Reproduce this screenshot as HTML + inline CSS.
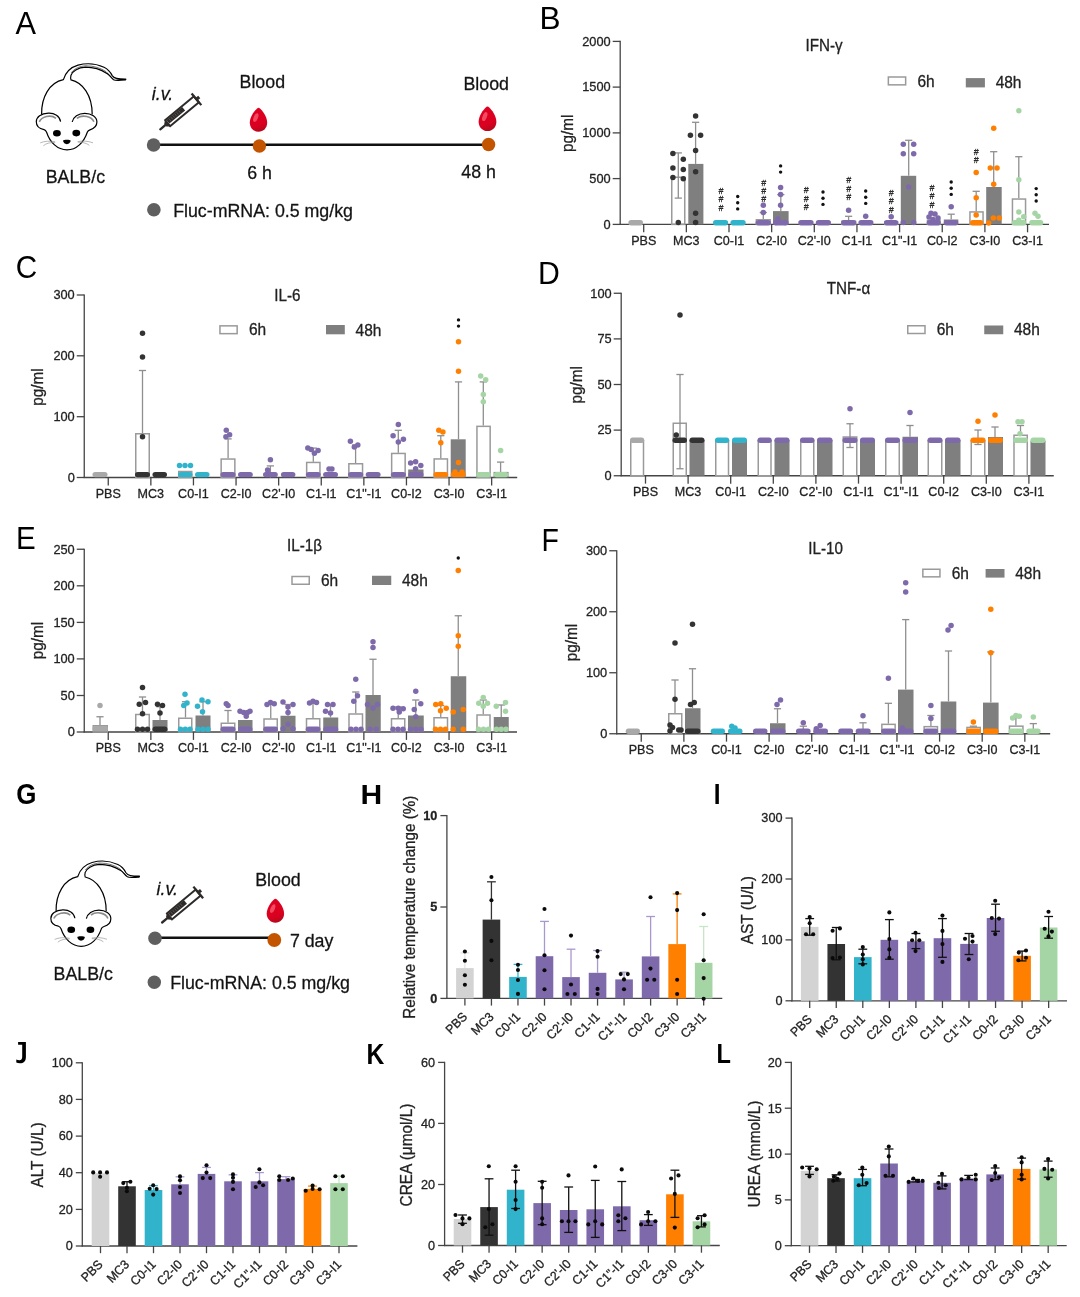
<!DOCTYPE html><html><head><meta charset="utf-8"><title>Figure</title><style>html,body{margin:0;padding:0;background:#fff;}body{width:1080px;height:1297px;overflow:hidden;}svg{display:block;font-family:"Liberation Sans",sans-serif;will-change:transform;}text{stroke:#222;stroke-width:0.28px;stroke-linejoin:round;}</style></head><body>
<svg width="1080" height="1297" viewBox="0 0 1080 1297">
<defs>
<linearGradient id="dg1" x1="0.3" y1="0" x2="0.6" y2="1"><stop offset="0" stop-color="#de0022"/><stop offset="0.72" stop-color="#da0020"/><stop offset="1" stop-color="#b00a1c"/></linearGradient>
<linearGradient id="dg2" x1="0.3" y1="0" x2="0.6" y2="1"><stop offset="0" stop-color="#de0022"/><stop offset="0.72" stop-color="#da0020"/><stop offset="1" stop-color="#b00a1c"/></linearGradient>
<linearGradient id="dg3" x1="0.3" y1="0" x2="0.6" y2="1"><stop offset="0" stop-color="#de0022"/><stop offset="0.72" stop-color="#da0020"/><stop offset="1" stop-color="#b00a1c"/></linearGradient>
</defs>
<rect width="1080" height="1297" fill="#fff"/>
<text transform="translate(15.44 33.7) scale(0.980 1)" font-size="31.4" font-weight="normal" fill="#000" style="stroke:none">A</text>
<g transform="translate(30 60) scale(1)">
<path d="M11.6,54.6 C11.2,37 19.5,22.5 33.4,19.6 C35.5,13 40,7.5 48,5.2 C56,3 66,3.6 74,7.3 C78.5,9.4 80.6,12.5 82.2,15.6 C84.2,18.8 88,19.2 95.8,19.1 L95.6,19.9 C89,20.6 85.5,21 83.6,19.7 C80.6,17.5 79.4,14.6 76.9,13.4 C70,9 62.5,7.2 55.6,7.2 C47.5,7.6 42.3,11.5 41,15.2 C40.5,17.3 40.6,19 41,19.9 C52.5,22.5 62.3,35 62.2,54.6" fill="#fff" stroke="#000" stroke-width="1.2" stroke-linejoin="round"/>
<path d="M41.2,12.8 C44.5,8.4 50,6 56,5.8 C64,5.8 71,8.2 76,11.6 C78.8,13.8 80.3,16.8 83,18.9" fill="none" stroke="#000" stroke-width="0.55"/>
<path d="M30.6,61.6 C29.8,56 24.5,53 18.5,53.2 C11,53.5 6.3,57 6.3,61.8 C6.3,66 9.5,68.8 14,69.6 C15.6,70 16.1,71 16.6,72.2 C20,82.5 27.5,89.9 37,89.9 C46.5,89.9 53.8,82.5 57.4,72 C57.9,70.8 58.8,70.3 60,69.9 C64.2,68.6 66.9,65.8 66.9,62 C66.9,57 61.5,53.4 54.8,53.4 C48.3,53.4 43.2,57 42.2,62" fill="#fff" stroke="#000" stroke-width="1.2" stroke-linejoin="round"/>
<path d="M9.3,61.8 C11.5,57 20.5,53.8 26,58.4" fill="none" stroke="#8a8a8a" stroke-width="1.6"/>
<path d="M46.8,58.3 C52.5,54.2 61.8,56.2 63.9,61.8" fill="none" stroke="#8a8a8a" stroke-width="1.6"/>
<ellipse cx="26.9" cy="73.2" rx="3.9" ry="3.3" fill="#000"/>
<ellipse cx="46.3" cy="73.1" rx="3.9" ry="3.3" fill="#000"/>
<path d="M33.1,80.6 C33.4,79.4 40.3,79.4 40.6,80.6 C40.8,82.2 38.8,84.3 36.8,84.3 C34.9,84.3 32.9,82.2 33.1,80.6 Z" fill="#000"/>
<path d="M10.2,82.9 C14,81.2 20,80.6 25.2,81.8 M13.4,85.7 C16,83.2 21,82.2 25.2,82.6 M47.6,81.6 C52,80.6 58,81 63,82.8 M47.8,82.2 C52,82 56.3,83 59.4,85.3" fill="none" stroke="#9a9a9a" stroke-width="0.7"/>
</g>
<text transform="translate(45.74 182.6) scale(1 1.04)" font-size="17.8" text-anchor="start" font-weight="normal" fill="#111">BALB/c</text>
<line x1="153.5" y1="144.8" x2="488.5" y2="144.8" stroke="#111" stroke-width="2.4"/>
<circle cx="153.6" cy="145" r="6.8" fill="#5f5f5f"/>
<circle cx="259.4" cy="146" r="6.7" fill="#c45500"/>
<circle cx="488.6" cy="144.5" r="6.7" fill="#c45500"/>
<g transform="translate(160.3 129.3) rotate(-39.7)"><line x1="0" y1="0" x2="8" y2="0" stroke="#2e2a2a" stroke-width="2.3" stroke-linecap="round"/><path d="M6.5,-1.6 L9.5,-4.2 L9.5,4.2 L6.5,1.6 Z" fill="#2e2a2a"/><rect x="9.6" y="-3.9" width="37.2" height="7.8" fill="#fff" stroke="#2e2a2a" stroke-width="2.0"/><rect x="10.6" y="-3.2" width="20.5" height="4.6" fill="#2e2a2a"/><path d="M13.5,-2.6 v2.8 M16,-2.6 v2.8 M18.5,-2.6 v2.8 M21,-2.6 v2.8 M23.5,-2.6 v2.8 M26,-2.6 v2.8" stroke="#6a6464" stroke-width="0.7"/><line x1="47" y1="-7.6" x2="47" y2="7.6" stroke="#2e2a2a" stroke-width="2.3"/><rect x="47" y="-1.6" width="3.6" height="3.2" fill="#2e2a2a"/></g>
<text transform="translate(151.8 99.8) scale(1 1.04)" font-size="17.8" text-anchor="start" font-weight="normal" fill="#111" style="font-style:italic">i.v.</text>
<text transform="translate(239.54 88.1) scale(1 1.04)" font-size="17.8" text-anchor="start" font-weight="normal" fill="#111">Blood</text>
<text transform="translate(463.44 89.7) scale(1 1.04)" font-size="17.8" text-anchor="start" font-weight="normal" fill="#111">Blood</text>
<g transform="translate(258.5 107.8) scale(1)"><path d="M0,0 C1.6,0 8.7,7.8 8.7,14.8 C8.7,20.2 4.8,24 0,24 C-4.8,24 -8.7,20.2 -8.7,14.8 C-8.7,7.8 -1.6,0 0,0 Z" fill="url(#dg1)"/><ellipse cx="-2.7" cy="9.8" rx="2.1" ry="4.6" transform="rotate(22 -2.7 9.8)" fill="#f24a60"/></g>
<g transform="translate(487.5 106.6) scale(1.02)"><path d="M0,0 C1.6,0 8.7,7.8 8.7,14.8 C8.7,20.2 4.8,24 0,24 C-4.8,24 -8.7,20.2 -8.7,14.8 C-8.7,7.8 -1.6,0 0,0 Z" fill="url(#dg2)"/><ellipse cx="-2.7" cy="9.8" rx="2.1" ry="4.6" transform="rotate(22 -2.7 9.8)" fill="#f24a60"/></g>
<text transform="translate(247.19 178.9) scale(1 1.04)" font-size="17.8" text-anchor="start" font-weight="normal" fill="#111">6 h</text>
<text transform="translate(461.29 178.1) scale(1 1.04)" font-size="17.8" text-anchor="start" font-weight="normal" fill="#111">48 h</text>
<circle cx="153.9" cy="209.7" r="6.8" fill="#5f5f5f"/>
<text transform="translate(173.14 217) scale(1 1.04)" font-size="17.8" text-anchor="start" font-weight="normal" fill="#111">Fluc-mRNA: 0.5 mg/kg</text>
<line x1="620.2" y1="40.8" x2="620.2" y2="225" stroke="#454545" stroke-width="1.3"/>
<line x1="619.6" y1="224.4" x2="1049" y2="224.4" stroke="#454545" stroke-width="1.3"/>
<line x1="612.7" y1="41.4" x2="620.2" y2="41.4" stroke="#454545" stroke-width="1.3"/>
<text transform="translate(610.7 45.7) scale(1 1.04)" font-size="12.8" text-anchor="end" font-weight="normal" fill="#222222">2000</text>
<line x1="612.7" y1="87.1" x2="620.2" y2="87.1" stroke="#454545" stroke-width="1.3"/>
<text transform="translate(610.7 91.4) scale(1 1.04)" font-size="12.8" text-anchor="end" font-weight="normal" fill="#222222">1500</text>
<line x1="612.7" y1="132.9" x2="620.2" y2="132.9" stroke="#454545" stroke-width="1.3"/>
<text transform="translate(610.7 137.2) scale(1 1.04)" font-size="12.8" text-anchor="end" font-weight="normal" fill="#222222">1000</text>
<line x1="612.7" y1="178.6" x2="620.2" y2="178.6" stroke="#454545" stroke-width="1.3"/>
<text transform="translate(610.7 182.9) scale(1 1.04)" font-size="12.8" text-anchor="end" font-weight="normal" fill="#222222">500</text>
<line x1="612.7" y1="224.4" x2="620.2" y2="224.4" stroke="#454545" stroke-width="1.3"/>
<text transform="translate(610.7 228.7) scale(1 1.04)" font-size="12.8" text-anchor="end" font-weight="normal" fill="#222222">0</text>
<line x1="643.7" y1="224.4" x2="643.7" y2="232.3" stroke="#454545" stroke-width="1.3"/>
<text transform="translate(643.7 244.7) scale(1 1.04)" font-size="12.55" text-anchor="middle" font-weight="normal" fill="#222222">PBS</text>
<line x1="686.35" y1="224.4" x2="686.35" y2="232.3" stroke="#454545" stroke-width="1.3"/>
<text transform="translate(686.35 244.7) scale(1 1.04)" font-size="12.55" text-anchor="middle" font-weight="normal" fill="#222222">MC3</text>
<line x1="729" y1="224.4" x2="729" y2="232.3" stroke="#454545" stroke-width="1.3"/>
<text transform="translate(729 244.7) scale(1 1.04)" font-size="12.55" text-anchor="middle" font-weight="normal" fill="#222222">C0-I1</text>
<line x1="771.65" y1="224.4" x2="771.65" y2="232.3" stroke="#454545" stroke-width="1.3"/>
<text transform="translate(771.65 244.7) scale(1 1.04)" font-size="12.55" text-anchor="middle" font-weight="normal" fill="#222222">C2-I0</text>
<line x1="814.3" y1="224.4" x2="814.3" y2="232.3" stroke="#454545" stroke-width="1.3"/>
<text transform="translate(814.3 244.7) scale(1 1.04)" font-size="12.55" text-anchor="middle" font-weight="normal" fill="#222222">C2'-I0</text>
<line x1="856.95" y1="224.4" x2="856.95" y2="232.3" stroke="#454545" stroke-width="1.3"/>
<text transform="translate(856.95 244.7) scale(1 1.04)" font-size="12.55" text-anchor="middle" font-weight="normal" fill="#222222">C1-I1</text>
<line x1="899.6" y1="224.4" x2="899.6" y2="232.3" stroke="#454545" stroke-width="1.3"/>
<text transform="translate(899.6 244.7) scale(1 1.04)" font-size="12.55" text-anchor="middle" font-weight="normal" fill="#222222">C1"-I1</text>
<line x1="942.25" y1="224.4" x2="942.25" y2="232.3" stroke="#454545" stroke-width="1.3"/>
<text transform="translate(942.25 244.7) scale(1 1.04)" font-size="12.55" text-anchor="middle" font-weight="normal" fill="#222222">C0-I2</text>
<line x1="984.9" y1="224.4" x2="984.9" y2="232.3" stroke="#454545" stroke-width="1.3"/>
<text transform="translate(984.9 244.7) scale(1 1.04)" font-size="12.55" text-anchor="middle" font-weight="normal" fill="#222222">C3-I0</text>
<line x1="1027.55" y1="224.4" x2="1027.55" y2="232.3" stroke="#454545" stroke-width="1.3"/>
<text transform="translate(1027.55 244.7) scale(1 1.04)" font-size="12.55" text-anchor="middle" font-weight="normal" fill="#222222">C3-I1</text>
<rect x="671.75" y="177.25" width="13" height="47.15" fill="none" stroke="#9a9a9a" stroke-width="1.5"/>
<rect x="688.3" y="163.9" width="15.1" height="60.5" fill="#7f7f7f" stroke="none" stroke-width="0"/>
<rect x="756.35" y="219.75" width="13.8" height="4.65" fill="none" stroke="#9a9a9a" stroke-width="1.5"/>
<rect x="773" y="211.1" width="15.6" height="13.3" fill="#7f7f7f" stroke="none" stroke-width="0"/>
<rect x="841.85" y="221.25" width="13.7" height="3.15" fill="none" stroke="#9a9a9a" stroke-width="1.5"/>
<rect x="884.75" y="221.75" width="12.8" height="2.65" fill="none" stroke="#9a9a9a" stroke-width="1.5"/>
<rect x="900.8" y="175.8" width="15.4" height="48.6" fill="#7f7f7f" stroke="none" stroke-width="0"/>
<rect x="927.45" y="220.25" width="12.6" height="4.15" fill="none" stroke="#9a9a9a" stroke-width="1.5"/>
<rect x="943.8" y="219.5" width="14.5" height="4.9" fill="#7f7f7f" stroke="none" stroke-width="0"/>
<rect x="969.95" y="211.95" width="13.1" height="12.45" fill="none" stroke="#9a9a9a" stroke-width="1.5"/>
<rect x="986.2" y="187" width="15.5" height="37.4" fill="#7f7f7f" stroke="none" stroke-width="0"/>
<rect x="1012.45" y="199.05" width="13.1" height="25.35" fill="none" stroke="#9a9a9a" stroke-width="1.5"/>
<line x1="678.3" y1="152.9" x2="678.3" y2="198.1" stroke="#8f8f8f" stroke-width="1.3"/>
<line x1="674.7" y1="152.9" x2="681.9" y2="152.9" stroke="#8f8f8f" stroke-width="1.3"/>
<line x1="674.7" y1="198.1" x2="681.9" y2="198.1" stroke="#8f8f8f" stroke-width="1.3"/>
<line x1="695.6" y1="122.3" x2="695.6" y2="163.9" stroke="#8f8f8f" stroke-width="1.3"/>
<line x1="692" y1="122.3" x2="699.2" y2="122.3" stroke="#8f8f8f" stroke-width="1.3"/>
<line x1="763.3" y1="212.5" x2="763.3" y2="219" stroke="#8f8f8f" stroke-width="1.3"/>
<line x1="759.7" y1="212.5" x2="766.9" y2="212.5" stroke="#8f8f8f" stroke-width="1.3"/>
<line x1="780.8" y1="194.6" x2="780.8" y2="211.1" stroke="#8f8f8f" stroke-width="1.3"/>
<line x1="777.2" y1="194.6" x2="784.4" y2="194.6" stroke="#8f8f8f" stroke-width="1.3"/>
<line x1="848.6" y1="216.3" x2="848.6" y2="220.5" stroke="#8f8f8f" stroke-width="1.3"/>
<line x1="845" y1="216.3" x2="852.2" y2="216.3" stroke="#8f8f8f" stroke-width="1.3"/>
<line x1="908.7" y1="140.3" x2="908.7" y2="175.8" stroke="#8f8f8f" stroke-width="1.3"/>
<line x1="905.1" y1="140.3" x2="912.3" y2="140.3" stroke="#8f8f8f" stroke-width="1.3"/>
<line x1="951.2" y1="214.2" x2="951.2" y2="219.5" stroke="#8f8f8f" stroke-width="1.3"/>
<line x1="947.6" y1="214.2" x2="954.8" y2="214.2" stroke="#8f8f8f" stroke-width="1.3"/>
<line x1="976.2" y1="191.3" x2="976.2" y2="211.2" stroke="#8f8f8f" stroke-width="1.3"/>
<line x1="972.6" y1="191.3" x2="979.8" y2="191.3" stroke="#8f8f8f" stroke-width="1.3"/>
<line x1="993.7" y1="151.7" x2="993.7" y2="187" stroke="#8f8f8f" stroke-width="1.3"/>
<line x1="990.1" y1="151.7" x2="997.3" y2="151.7" stroke="#8f8f8f" stroke-width="1.3"/>
<line x1="1018.8" y1="156.7" x2="1018.8" y2="198.3" stroke="#8f8f8f" stroke-width="1.3"/>
<line x1="1015.2" y1="156.7" x2="1022.4" y2="156.7" stroke="#8f8f8f" stroke-width="1.3"/>
<rect x="628.4" y="220.1" width="14.6" height="5.4" rx="2.7" fill="#a9a9a9"/>
<rect x="713" y="220.1" width="15.2" height="5.4" rx="2.7" fill="#31b4cb"/>
<rect x="730.4" y="220.1" width="15.3" height="5.4" rx="2.7" fill="#31b4cb"/>
<rect x="755.6" y="220.1" width="15.3" height="5.4" rx="2.7" fill="#7e6aab"/>
<rect x="773" y="220.1" width="15.6" height="5.4" rx="2.7" fill="#7e6aab"/>
<rect x="798.3" y="220.1" width="15.3" height="5.4" rx="2.7" fill="#7e6aab"/>
<rect x="815.8" y="220.1" width="15.2" height="5.4" rx="2.7" fill="#7e6aab"/>
<rect x="841.1" y="220.1" width="15.2" height="5.4" rx="2.7" fill="#7e6aab"/>
<rect x="858.4" y="220.1" width="15.1" height="5.4" rx="2.7" fill="#7e6aab"/>
<rect x="884" y="220.1" width="14.3" height="5.4" rx="2.7" fill="#7e6aab"/>
<rect x="926.7" y="220.1" width="14.1" height="5.4" rx="2.7" fill="#7e6aab"/>
<rect x="943.8" y="220.1" width="14.5" height="5.4" rx="2.7" fill="#7e6aab"/>
<rect x="970" y="220.1" width="13.3" height="5.4" rx="2.7" fill="#ff7f00"/>
<rect x="1011.7" y="220.1" width="14.6" height="5.4" rx="2.7" fill="#a5d5a5"/>
<rect x="1029.2" y="220.1" width="14.1" height="5.4" rx="2.7" fill="#a5d5a5"/>
<circle cx="672.9" cy="153.5" r="2.75" fill="#333333"/>
<circle cx="672.9" cy="168" r="2.75" fill="#333333"/>
<circle cx="672.9" cy="177.5" r="2.75" fill="#333333"/>
<circle cx="683.3" cy="159.2" r="2.75" fill="#333333"/>
<circle cx="683.3" cy="169.6" r="2.75" fill="#333333"/>
<circle cx="683.3" cy="178.7" r="2.75" fill="#333333"/>
<circle cx="678.3" cy="222.5" r="2.75" fill="#333333"/>
<circle cx="695.6" cy="116" r="2.75" fill="#333333"/>
<circle cx="690.4" cy="135.3" r="2.75" fill="#333333"/>
<circle cx="700.6" cy="135.3" r="2.75" fill="#333333"/>
<circle cx="695.6" cy="150.6" r="2.75" fill="#333333"/>
<circle cx="695.6" cy="171.7" r="2.75" fill="#333333"/>
<circle cx="695.6" cy="213.2" r="2.75" fill="#333333"/>
<circle cx="695.6" cy="222.5" r="2.75" fill="#333333"/>
<circle cx="763.3" cy="205.3" r="2.75" fill="#7e6aab"/>
<circle cx="763.3" cy="212.5" r="2.75" fill="#7e6aab"/>
<circle cx="780.6" cy="187.5" r="2.75" fill="#7e6aab"/>
<circle cx="780.6" cy="194.6" r="2.75" fill="#7e6aab"/>
<circle cx="780.6" cy="205.3" r="2.75" fill="#7e6aab"/>
<circle cx="778" cy="219" r="2.75" fill="#7e6aab"/>
<circle cx="776" cy="222.5" r="2.75" fill="#7e6aab"/>
<circle cx="785" cy="222.5" r="2.75" fill="#7e6aab"/>
<circle cx="848.6" cy="210.2" r="2.75" fill="#7e6aab"/>
<circle cx="865.7" cy="216.3" r="2.75" fill="#7e6aab"/>
<circle cx="891.2" cy="216.7" r="2.75" fill="#7e6aab"/>
<circle cx="903.3" cy="144.2" r="2.75" fill="#7e6aab"/>
<circle cx="913.7" cy="144.2" r="2.75" fill="#7e6aab"/>
<circle cx="903.3" cy="153.7" r="2.75" fill="#7e6aab"/>
<circle cx="913.7" cy="153.7" r="2.75" fill="#7e6aab"/>
<circle cx="908.7" cy="187" r="2.75" fill="#7e6aab"/>
<circle cx="903.3" cy="222.5" r="2.75" fill="#7e6aab"/>
<circle cx="913.7" cy="222.5" r="2.75" fill="#7e6aab"/>
<circle cx="931" cy="213.3" r="2.75" fill="#7e6aab"/>
<circle cx="935" cy="214" r="2.75" fill="#7e6aab"/>
<circle cx="929" cy="217" r="2.75" fill="#7e6aab"/>
<circle cx="938" cy="218" r="2.75" fill="#7e6aab"/>
<circle cx="933" cy="219.5" r="2.75" fill="#7e6aab"/>
<circle cx="951.2" cy="206.7" r="2.75" fill="#7e6aab"/>
<circle cx="976.2" cy="172.5" r="2.75" fill="#ff7f00"/>
<circle cx="976.2" cy="197.8" r="2.75" fill="#ff7f00"/>
<circle cx="976.2" cy="215" r="2.75" fill="#ff7f00"/>
<circle cx="993.7" cy="128.3" r="2.75" fill="#ff7f00"/>
<circle cx="990.3" cy="168" r="2.75" fill="#ff7f00"/>
<circle cx="997" cy="168" r="2.75" fill="#ff7f00"/>
<circle cx="993.7" cy="184.2" r="2.75" fill="#ff7f00"/>
<circle cx="993.3" cy="218" r="2.75" fill="#ff7f00"/>
<circle cx="999.2" cy="218" r="2.75" fill="#ff7f00"/>
<circle cx="988.7" cy="223" r="2.75" fill="#ff7f00"/>
<circle cx="1018.8" cy="110.8" r="2.75" fill="#a5d5a5"/>
<circle cx="1018.8" cy="179.7" r="2.75" fill="#a5d5a5"/>
<circle cx="1018.8" cy="212" r="2.75" fill="#a5d5a5"/>
<circle cx="1023.7" cy="216.7" r="2.75" fill="#a5d5a5"/>
<circle cx="1018.8" cy="220.3" r="2.75" fill="#a5d5a5"/>
<circle cx="1035" cy="213.3" r="2.75" fill="#a5d5a5"/>
<circle cx="1038" cy="216.2" r="2.75" fill="#a5d5a5"/>
<text transform="translate(720.9 193.7) scale(1 1.04)" font-size="8.6" text-anchor="middle" font-weight="normal" fill="#2a2a2a" style="font-style:italic">#</text>
<text transform="translate(720.9 202.4) scale(1 1.04)" font-size="8.6" text-anchor="middle" font-weight="normal" fill="#2a2a2a" style="font-style:italic">#</text>
<text transform="translate(720.9 211.1) scale(1 1.04)" font-size="8.6" text-anchor="middle" font-weight="normal" fill="#2a2a2a" style="font-style:italic">#</text>
<text transform="translate(763.7 185.7) scale(1 1.04)" font-size="8.6" text-anchor="middle" font-weight="normal" fill="#2a2a2a" style="font-style:italic">#</text>
<text transform="translate(763.7 193.8) scale(1 1.04)" font-size="8.6" text-anchor="middle" font-weight="normal" fill="#2a2a2a" style="font-style:italic">#</text>
<text transform="translate(763.7 201.9) scale(1 1.04)" font-size="8.6" text-anchor="middle" font-weight="normal" fill="#2a2a2a" style="font-style:italic">#</text>
<text transform="translate(806.1 193.2) scale(1 1.04)" font-size="8.6" text-anchor="middle" font-weight="normal" fill="#2a2a2a" style="font-style:italic">#</text>
<text transform="translate(806.1 201.7) scale(1 1.04)" font-size="8.6" text-anchor="middle" font-weight="normal" fill="#2a2a2a" style="font-style:italic">#</text>
<text transform="translate(806.1 210.2) scale(1 1.04)" font-size="8.6" text-anchor="middle" font-weight="normal" fill="#2a2a2a" style="font-style:italic">#</text>
<text transform="translate(848.6 183.2) scale(1 1.04)" font-size="8.6" text-anchor="middle" font-weight="normal" fill="#2a2a2a" style="font-style:italic">#</text>
<text transform="translate(848.6 191.7) scale(1 1.04)" font-size="8.6" text-anchor="middle" font-weight="normal" fill="#2a2a2a" style="font-style:italic">#</text>
<text transform="translate(848.6 200.2) scale(1 1.04)" font-size="8.6" text-anchor="middle" font-weight="normal" fill="#2a2a2a" style="font-style:italic">#</text>
<text transform="translate(891.2 195.7) scale(1 1.04)" font-size="8.6" text-anchor="middle" font-weight="normal" fill="#2a2a2a" style="font-style:italic">#</text>
<text transform="translate(891.2 204.2) scale(1 1.04)" font-size="8.6" text-anchor="middle" font-weight="normal" fill="#2a2a2a" style="font-style:italic">#</text>
<text transform="translate(891.2 212.7) scale(1 1.04)" font-size="8.6" text-anchor="middle" font-weight="normal" fill="#2a2a2a" style="font-style:italic">#</text>
<text transform="translate(932 190.7) scale(1 1.04)" font-size="8.6" text-anchor="middle" font-weight="normal" fill="#2a2a2a" style="font-style:italic">#</text>
<text transform="translate(932 199.2) scale(1 1.04)" font-size="8.6" text-anchor="middle" font-weight="normal" fill="#2a2a2a" style="font-style:italic">#</text>
<text transform="translate(932 207.7) scale(1 1.04)" font-size="8.6" text-anchor="middle" font-weight="normal" fill="#2a2a2a" style="font-style:italic">#</text>
<text transform="translate(976.2 154.7) scale(1 1.04)" font-size="8.6" text-anchor="middle" font-weight="normal" fill="#2a2a2a" style="font-style:italic">#</text>
<text transform="translate(976.2 163.2) scale(1 1.04)" font-size="8.6" text-anchor="middle" font-weight="normal" fill="#2a2a2a" style="font-style:italic">#</text>
<circle cx="737.7" cy="196.5" r="1.7" fill="#111"/>
<circle cx="737.7" cy="202.7" r="1.7" fill="#111"/>
<circle cx="737.7" cy="208.9" r="1.7" fill="#111"/>
<circle cx="780.6" cy="165.9" r="1.7" fill="#111"/>
<circle cx="780.6" cy="172.1" r="1.7" fill="#111"/>
<circle cx="823" cy="192" r="1.7" fill="#111"/>
<circle cx="823" cy="198.2" r="1.7" fill="#111"/>
<circle cx="823" cy="204.4" r="1.7" fill="#111"/>
<circle cx="865.7" cy="191" r="1.7" fill="#111"/>
<circle cx="865.7" cy="197.2" r="1.7" fill="#111"/>
<circle cx="865.7" cy="203.4" r="1.7" fill="#111"/>
<circle cx="951.2" cy="182" r="1.7" fill="#111"/>
<circle cx="951.2" cy="188.2" r="1.7" fill="#111"/>
<circle cx="951.2" cy="194.4" r="1.7" fill="#111"/>
<circle cx="1036.2" cy="188.6" r="1.7" fill="#111"/>
<circle cx="1036.2" cy="194.8" r="1.7" fill="#111"/>
<circle cx="1036.2" cy="201" r="1.7" fill="#111"/>
<text transform="translate(805.5 50.5) scale(1 1.04)" font-size="15.2" text-anchor="start" font-weight="normal" fill="#222222">IFN-γ</text>
<rect x="888.35" y="77" width="17.3" height="7.85" fill="none" stroke="#9a9a9a" stroke-width="1.5"/>
<text transform="translate(917.4 86.7) scale(1 1.04)" font-size="15.5" text-anchor="start" font-weight="normal" fill="#222222">6h</text>
<rect x="965.8" y="78.1" width="19.1" height="9.3" fill="#7f7f7f" stroke="none" stroke-width="0"/>
<text transform="translate(995.65 88.3) scale(1 1.04)" font-size="15.5" text-anchor="start" font-weight="normal" fill="#222222">48h</text>
<text transform="translate(572.9 133.35) rotate(-90) scale(1 1.04)" x="0" y="0" font-size="15.3" text-anchor="middle" font-weight="normal" fill="#222222">pg/ml</text>
<text transform="translate(539.51 28.5) scale(0.996 1)" font-size="31.69" font-weight="normal" fill="#000" style="stroke:none">B</text>
<line x1="84.25" y1="294.4" x2="84.25" y2="478.1" stroke="#454545" stroke-width="1.3"/>
<line x1="83.65" y1="477.5" x2="517.2" y2="477.5" stroke="#454545" stroke-width="1.3"/>
<line x1="76.75" y1="295" x2="84.25" y2="295" stroke="#454545" stroke-width="1.3"/>
<text transform="translate(74.75 299.3) scale(1 1.04)" font-size="12.8" text-anchor="end" font-weight="normal" fill="#222222">300</text>
<line x1="76.75" y1="355.8" x2="84.25" y2="355.8" stroke="#454545" stroke-width="1.3"/>
<text transform="translate(74.75 360.1) scale(1 1.04)" font-size="12.8" text-anchor="end" font-weight="normal" fill="#222222">200</text>
<line x1="76.75" y1="416.7" x2="84.25" y2="416.7" stroke="#454545" stroke-width="1.3"/>
<text transform="translate(74.75 421) scale(1 1.04)" font-size="12.8" text-anchor="end" font-weight="normal" fill="#222222">100</text>
<line x1="76.75" y1="477.5" x2="84.25" y2="477.5" stroke="#454545" stroke-width="1.3"/>
<text transform="translate(74.75 481.8) scale(1 1.04)" font-size="12.8" text-anchor="end" font-weight="normal" fill="#222222">0</text>
<line x1="108.25" y1="477.5" x2="108.25" y2="485.4" stroke="#454545" stroke-width="1.3"/>
<text transform="translate(108.25 497.8) scale(1 1.04)" font-size="12.55" text-anchor="middle" font-weight="normal" fill="#222222">PBS</text>
<line x1="150.85" y1="477.5" x2="150.85" y2="485.4" stroke="#454545" stroke-width="1.3"/>
<text transform="translate(150.85 497.8) scale(1 1.04)" font-size="12.55" text-anchor="middle" font-weight="normal" fill="#222222">MC3</text>
<line x1="193.45" y1="477.5" x2="193.45" y2="485.4" stroke="#454545" stroke-width="1.3"/>
<text transform="translate(193.45 497.8) scale(1 1.04)" font-size="12.55" text-anchor="middle" font-weight="normal" fill="#222222">C0-I1</text>
<line x1="236.05" y1="477.5" x2="236.05" y2="485.4" stroke="#454545" stroke-width="1.3"/>
<text transform="translate(236.05 497.8) scale(1 1.04)" font-size="12.55" text-anchor="middle" font-weight="normal" fill="#222222">C2-I0</text>
<line x1="278.65" y1="477.5" x2="278.65" y2="485.4" stroke="#454545" stroke-width="1.3"/>
<text transform="translate(278.65 497.8) scale(1 1.04)" font-size="12.55" text-anchor="middle" font-weight="normal" fill="#222222">C2'-I0</text>
<line x1="321.25" y1="477.5" x2="321.25" y2="485.4" stroke="#454545" stroke-width="1.3"/>
<text transform="translate(321.25 497.8) scale(1 1.04)" font-size="12.55" text-anchor="middle" font-weight="normal" fill="#222222">C1-I1</text>
<line x1="363.85" y1="477.5" x2="363.85" y2="485.4" stroke="#454545" stroke-width="1.3"/>
<text transform="translate(363.85 497.8) scale(1 1.04)" font-size="12.55" text-anchor="middle" font-weight="normal" fill="#222222">C1"-I1</text>
<line x1="406.45" y1="477.5" x2="406.45" y2="485.4" stroke="#454545" stroke-width="1.3"/>
<text transform="translate(406.45 497.8) scale(1 1.04)" font-size="12.55" text-anchor="middle" font-weight="normal" fill="#222222">C0-I2</text>
<line x1="449.05" y1="477.5" x2="449.05" y2="485.4" stroke="#454545" stroke-width="1.3"/>
<text transform="translate(449.05 497.8) scale(1 1.04)" font-size="12.55" text-anchor="middle" font-weight="normal" fill="#222222">C3-I0</text>
<line x1="491.65" y1="477.5" x2="491.65" y2="485.4" stroke="#454545" stroke-width="1.3"/>
<text transform="translate(491.65 497.8) scale(1 1.04)" font-size="12.55" text-anchor="middle" font-weight="normal" fill="#222222">C3-I1</text>
<rect x="135.75" y="433.75" width="13.5" height="43.75" fill="none" stroke="#9a9a9a" stroke-width="1.5"/>
<rect x="178.75" y="471.5" width="13" height="6" fill="none" stroke="#9a9a9a" stroke-width="1.5"/>
<rect x="221.15" y="459.05" width="13.7" height="18.45" fill="none" stroke="#9a9a9a" stroke-width="1.5"/>
<rect x="306.65" y="462.45" width="13.3" height="15.05" fill="none" stroke="#9a9a9a" stroke-width="1.5"/>
<rect x="348.85" y="463.75" width="13.7" height="13.75" fill="none" stroke="#9a9a9a" stroke-width="1.5"/>
<rect x="391.65" y="453.45" width="13.5" height="24.05" fill="none" stroke="#9a9a9a" stroke-width="1.5"/>
<rect x="408.2" y="469.5" width="15.3" height="8" fill="#7f7f7f" stroke="none" stroke-width="0"/>
<rect x="434.15" y="458.95" width="13.3" height="18.55" fill="none" stroke="#9a9a9a" stroke-width="1.5"/>
<rect x="450.7" y="439.3" width="15" height="38.2" fill="#7f7f7f" stroke="none" stroke-width="0"/>
<rect x="476.95" y="426.35" width="13.2" height="51.15" fill="none" stroke="#9a9a9a" stroke-width="1.5"/>
<rect x="493.6" y="471.9" width="14.9" height="5.6" fill="#7f7f7f" stroke="none" stroke-width="0"/>
<line x1="142.5" y1="370.5" x2="142.5" y2="433" stroke="#8f8f8f" stroke-width="1.3"/>
<line x1="138.9" y1="370.5" x2="146.1" y2="370.5" stroke="#8f8f8f" stroke-width="1.3"/>
<line x1="228.1" y1="438.9" x2="228.1" y2="458.3" stroke="#8f8f8f" stroke-width="1.3"/>
<line x1="224.5" y1="438.9" x2="231.7" y2="438.9" stroke="#8f8f8f" stroke-width="1.3"/>
<line x1="270.4" y1="465.9" x2="270.4" y2="477.5" stroke="#8f8f8f" stroke-width="1.3"/>
<line x1="266.8" y1="465.9" x2="274" y2="465.9" stroke="#8f8f8f" stroke-width="1.3"/>
<line x1="313.3" y1="448.1" x2="313.3" y2="461.7" stroke="#8f8f8f" stroke-width="1.3"/>
<line x1="309.7" y1="448.1" x2="316.9" y2="448.1" stroke="#8f8f8f" stroke-width="1.3"/>
<line x1="355.6" y1="445" x2="355.6" y2="463" stroke="#8f8f8f" stroke-width="1.3"/>
<line x1="352" y1="445" x2="359.2" y2="445" stroke="#8f8f8f" stroke-width="1.3"/>
<line x1="398.3" y1="430.3" x2="398.3" y2="452.7" stroke="#8f8f8f" stroke-width="1.3"/>
<line x1="394.7" y1="430.3" x2="401.9" y2="430.3" stroke="#8f8f8f" stroke-width="1.3"/>
<line x1="440.8" y1="435.7" x2="440.8" y2="458.2" stroke="#8f8f8f" stroke-width="1.3"/>
<line x1="437.2" y1="435.7" x2="444.4" y2="435.7" stroke="#8f8f8f" stroke-width="1.3"/>
<line x1="458.5" y1="381.9" x2="458.5" y2="439.3" stroke="#8f8f8f" stroke-width="1.3"/>
<line x1="454.9" y1="381.9" x2="462.1" y2="381.9" stroke="#8f8f8f" stroke-width="1.3"/>
<line x1="483.3" y1="381.9" x2="483.3" y2="425.6" stroke="#8f8f8f" stroke-width="1.3"/>
<line x1="479.7" y1="381.9" x2="486.9" y2="381.9" stroke="#8f8f8f" stroke-width="1.3"/>
<line x1="500.6" y1="462.1" x2="500.6" y2="471.9" stroke="#8f8f8f" stroke-width="1.3"/>
<line x1="497" y1="462.1" x2="504.2" y2="462.1" stroke="#8f8f8f" stroke-width="1.3"/>
<rect x="92.5" y="471.9" width="15" height="5.4" rx="2.7" fill="#a9a9a9"/>
<rect x="135" y="471.9" width="15" height="5.4" rx="2.7" fill="#333333"/>
<rect x="152.5" y="471.9" width="14.5" height="5.4" rx="2.7" fill="#333333"/>
<rect x="178" y="471.9" width="14.5" height="5.4" rx="2.7" fill="#31b4cb"/>
<rect x="195" y="471.9" width="14.5" height="5.4" rx="2.7" fill="#31b4cb"/>
<rect x="220.4" y="471.9" width="15.2" height="5.4" rx="2.7" fill="#7e6aab"/>
<rect x="238" y="471.9" width="14.8" height="5.4" rx="2.7" fill="#7e6aab"/>
<rect x="263" y="471.9" width="14.8" height="5.4" rx="2.7" fill="#7e6aab"/>
<rect x="280.9" y="471.9" width="14.5" height="5.4" rx="2.7" fill="#7e6aab"/>
<rect x="305.9" y="471.9" width="14.8" height="5.4" rx="2.7" fill="#7e6aab"/>
<rect x="323.1" y="471.9" width="14.9" height="5.4" rx="2.7" fill="#7e6aab"/>
<rect x="348.1" y="471.9" width="15.2" height="5.4" rx="2.7" fill="#7e6aab"/>
<rect x="365.7" y="471.9" width="14.9" height="5.4" rx="2.7" fill="#7e6aab"/>
<rect x="390.9" y="471.9" width="15" height="5.4" rx="2.7" fill="#7e6aab"/>
<rect x="408.2" y="471.9" width="15.3" height="5.4" rx="2.7" fill="#7e6aab"/>
<rect x="433.4" y="471.9" width="14.8" height="5.4" rx="2.7" fill="#ff7f00"/>
<rect x="450.7" y="471.9" width="15" height="5.4" rx="2.7" fill="#ff7f00"/>
<rect x="476.2" y="471.9" width="14.7" height="5.4" rx="2.7" fill="#a5d5a5"/>
<rect x="493.6" y="471.9" width="14.9" height="5.4" rx="2.7" fill="#a5d5a5"/>
<circle cx="142.5" cy="333.25" r="2.75" fill="#333333"/>
<circle cx="142.5" cy="357" r="2.75" fill="#333333"/>
<circle cx="142.5" cy="436.75" r="2.75" fill="#333333"/>
<circle cx="179.5" cy="465.5" r="2.75" fill="#31b4cb"/>
<circle cx="185" cy="465.5" r="2.75" fill="#31b4cb"/>
<circle cx="190.5" cy="465.5" r="2.75" fill="#31b4cb"/>
<circle cx="226.3" cy="430.2" r="2.75" fill="#7e6aab"/>
<circle cx="225.9" cy="436.7" r="2.75" fill="#7e6aab"/>
<circle cx="229.6" cy="434.8" r="2.75" fill="#7e6aab"/>
<circle cx="270.4" cy="459.8" r="2.75" fill="#7e6aab"/>
<circle cx="267.6" cy="470" r="2.75" fill="#7e6aab"/>
<circle cx="307.8" cy="448.1" r="2.75" fill="#7e6aab"/>
<circle cx="311.1" cy="449.6" r="2.75" fill="#7e6aab"/>
<circle cx="314.4" cy="453.3" r="2.75" fill="#7e6aab"/>
<circle cx="318.1" cy="450.6" r="2.75" fill="#7e6aab"/>
<circle cx="329" cy="469" r="2.75" fill="#7e6aab"/>
<circle cx="331.9" cy="469" r="2.75" fill="#7e6aab"/>
<circle cx="350.4" cy="441.3" r="2.75" fill="#7e6aab"/>
<circle cx="354.3" cy="446.9" r="2.75" fill="#7e6aab"/>
<circle cx="357.8" cy="445" r="2.75" fill="#7e6aab"/>
<circle cx="398.3" cy="424.4" r="2.75" fill="#7e6aab"/>
<circle cx="393.1" cy="435.7" r="2.75" fill="#7e6aab"/>
<circle cx="403.4" cy="439.3" r="2.75" fill="#7e6aab"/>
<circle cx="398.3" cy="442.1" r="2.75" fill="#7e6aab"/>
<circle cx="410.6" cy="462.9" r="2.75" fill="#7e6aab"/>
<circle cx="415.6" cy="461.8" r="2.75" fill="#7e6aab"/>
<circle cx="420.8" cy="465.6" r="2.75" fill="#7e6aab"/>
<circle cx="415.6" cy="468.7" r="2.75" fill="#7e6aab"/>
<circle cx="438.8" cy="430.3" r="2.75" fill="#ff7f00"/>
<circle cx="442.9" cy="431.9" r="2.75" fill="#ff7f00"/>
<circle cx="440.8" cy="442.8" r="2.75" fill="#ff7f00"/>
<circle cx="458.5" cy="341.7" r="2.75" fill="#ff7f00"/>
<circle cx="458.5" cy="371.3" r="2.75" fill="#ff7f00"/>
<circle cx="458.5" cy="462.4" r="2.75" fill="#ff7f00"/>
<circle cx="455" cy="472" r="2.75" fill="#ff7f00"/>
<circle cx="462" cy="472" r="2.75" fill="#ff7f00"/>
<circle cx="480.7" cy="376" r="2.75" fill="#a5d5a5"/>
<circle cx="485.7" cy="379.8" r="2.75" fill="#a5d5a5"/>
<circle cx="483.3" cy="394.4" r="2.75" fill="#a5d5a5"/>
<circle cx="483.3" cy="401.8" r="2.75" fill="#a5d5a5"/>
<circle cx="500.6" cy="450.6" r="2.75" fill="#a5d5a5"/>
<circle cx="458.5" cy="319.9" r="1.7" fill="#111"/>
<circle cx="458.5" cy="326.1" r="1.7" fill="#111"/>
<text transform="translate(274.3 300.9) scale(1 1.04)" font-size="15.2" text-anchor="start" font-weight="normal" fill="#222222">IL-6</text>
<rect x="219.95" y="325.85" width="17.2" height="7.8" fill="none" stroke="#9a9a9a" stroke-width="1.5"/>
<text transform="translate(248.9 335.3) scale(1 1.04)" font-size="15.5" text-anchor="start" font-weight="normal" fill="#222222">6h</text>
<rect x="326" y="325" width="18.8" height="9.3" fill="#7f7f7f" stroke="none" stroke-width="0"/>
<text transform="translate(355.55 335.5) scale(1 1.04)" font-size="15.5" text-anchor="start" font-weight="normal" fill="#222222">48h</text>
<text transform="translate(43.1 387) rotate(-90) scale(1 1.04)" x="0" y="0" font-size="15.3" text-anchor="middle" font-weight="normal" fill="#222222">pg/ml</text>
<text transform="translate(15.79 277.99) scale(0.942 1)" font-size="31.5" font-weight="normal" fill="#000" style="stroke:none">C</text>
<line x1="621.2" y1="292.65" x2="621.2" y2="476.35" stroke="#454545" stroke-width="1.3"/>
<line x1="620.6" y1="475.75" x2="1053.75" y2="475.75" stroke="#454545" stroke-width="1.3"/>
<line x1="613.7" y1="293.25" x2="621.2" y2="293.25" stroke="#454545" stroke-width="1.3"/>
<text transform="translate(611.7 297.55) scale(1 1.04)" font-size="12.8" text-anchor="end" font-weight="normal" fill="#222222">100</text>
<line x1="613.7" y1="338.9" x2="621.2" y2="338.9" stroke="#454545" stroke-width="1.3"/>
<text transform="translate(611.7 343.2) scale(1 1.04)" font-size="12.8" text-anchor="end" font-weight="normal" fill="#222222">75</text>
<line x1="613.7" y1="384.5" x2="621.2" y2="384.5" stroke="#454545" stroke-width="1.3"/>
<text transform="translate(611.7 388.8) scale(1 1.04)" font-size="12.8" text-anchor="end" font-weight="normal" fill="#222222">50</text>
<line x1="613.7" y1="430.1" x2="621.2" y2="430.1" stroke="#454545" stroke-width="1.3"/>
<text transform="translate(611.7 434.4) scale(1 1.04)" font-size="12.8" text-anchor="end" font-weight="normal" fill="#222222">25</text>
<line x1="613.7" y1="475.75" x2="621.2" y2="475.75" stroke="#454545" stroke-width="1.3"/>
<text transform="translate(611.7 480.05) scale(1 1.04)" font-size="12.8" text-anchor="end" font-weight="normal" fill="#222222">0</text>
<line x1="645.5" y1="475.75" x2="645.5" y2="483.65" stroke="#454545" stroke-width="1.3"/>
<text transform="translate(645.5 496.05) scale(1 1.04)" font-size="12.55" text-anchor="middle" font-weight="normal" fill="#222222">PBS</text>
<line x1="688.1" y1="475.75" x2="688.1" y2="483.65" stroke="#454545" stroke-width="1.3"/>
<text transform="translate(688.1 496.05) scale(1 1.04)" font-size="12.55" text-anchor="middle" font-weight="normal" fill="#222222">MC3</text>
<line x1="730.7" y1="475.75" x2="730.7" y2="483.65" stroke="#454545" stroke-width="1.3"/>
<text transform="translate(730.7 496.05) scale(1 1.04)" font-size="12.55" text-anchor="middle" font-weight="normal" fill="#222222">C0-I1</text>
<line x1="773.3" y1="475.75" x2="773.3" y2="483.65" stroke="#454545" stroke-width="1.3"/>
<text transform="translate(773.3 496.05) scale(1 1.04)" font-size="12.55" text-anchor="middle" font-weight="normal" fill="#222222">C2-I0</text>
<line x1="815.9" y1="475.75" x2="815.9" y2="483.65" stroke="#454545" stroke-width="1.3"/>
<text transform="translate(815.9 496.05) scale(1 1.04)" font-size="12.55" text-anchor="middle" font-weight="normal" fill="#222222">C2'-I0</text>
<line x1="858.5" y1="475.75" x2="858.5" y2="483.65" stroke="#454545" stroke-width="1.3"/>
<text transform="translate(858.5 496.05) scale(1 1.04)" font-size="12.55" text-anchor="middle" font-weight="normal" fill="#222222">C1-I1</text>
<line x1="901.1" y1="475.75" x2="901.1" y2="483.65" stroke="#454545" stroke-width="1.3"/>
<text transform="translate(901.1 496.05) scale(1 1.04)" font-size="12.55" text-anchor="middle" font-weight="normal" fill="#222222">C1"-I1</text>
<line x1="943.7" y1="475.75" x2="943.7" y2="483.65" stroke="#454545" stroke-width="1.3"/>
<text transform="translate(943.7 496.05) scale(1 1.04)" font-size="12.55" text-anchor="middle" font-weight="normal" fill="#222222">C0-I2</text>
<line x1="986.3" y1="475.75" x2="986.3" y2="483.65" stroke="#454545" stroke-width="1.3"/>
<text transform="translate(986.3 496.05) scale(1 1.04)" font-size="12.55" text-anchor="middle" font-weight="normal" fill="#222222">C3-I0</text>
<line x1="1028.9" y1="475.75" x2="1028.9" y2="483.65" stroke="#454545" stroke-width="1.3"/>
<text transform="translate(1028.9 496.05) scale(1 1.04)" font-size="12.55" text-anchor="middle" font-weight="normal" fill="#222222">C3-I1</text>
<rect x="630.75" y="440.75" width="12.75" height="35" fill="none" stroke="#9a9a9a" stroke-width="1.5"/>
<rect x="673.25" y="423.25" width="13" height="52.5" fill="none" stroke="#9a9a9a" stroke-width="1.5"/>
<rect x="689.5" y="440" width="15" height="35.75" fill="#7f7f7f" stroke="none" stroke-width="0"/>
<rect x="715.75" y="440.75" width="12.75" height="35" fill="none" stroke="#9a9a9a" stroke-width="1.5"/>
<rect x="732" y="440" width="15" height="35.75" fill="#7f7f7f" stroke="none" stroke-width="0"/>
<rect x="758.25" y="440.75" width="12.75" height="35" fill="none" stroke="#9a9a9a" stroke-width="1.5"/>
<rect x="774.5" y="440" width="15" height="35.75" fill="#7f7f7f" stroke="none" stroke-width="0"/>
<rect x="800.75" y="440.75" width="13" height="35" fill="none" stroke="#9a9a9a" stroke-width="1.5"/>
<rect x="817" y="440" width="15.5" height="35.75" fill="#7f7f7f" stroke="none" stroke-width="0"/>
<rect x="843.25" y="437" width="13.5" height="38.75" fill="none" stroke="#9a9a9a" stroke-width="1.5"/>
<rect x="860" y="440" width="15" height="35.75" fill="#7f7f7f" stroke="none" stroke-width="0"/>
<rect x="885.75" y="440.75" width="13.5" height="35" fill="none" stroke="#9a9a9a" stroke-width="1.5"/>
<rect x="902.5" y="436.75" width="15.5" height="39" fill="#7f7f7f" stroke="none" stroke-width="0"/>
<rect x="928.25" y="440.75" width="13.5" height="35" fill="none" stroke="#9a9a9a" stroke-width="1.5"/>
<rect x="945" y="440" width="15.5" height="35.75" fill="#7f7f7f" stroke="none" stroke-width="0"/>
<rect x="971.25" y="440.75" width="13.5" height="35" fill="none" stroke="#9a9a9a" stroke-width="1.5"/>
<rect x="988" y="437" width="15" height="38.75" fill="#7f7f7f" stroke="none" stroke-width="0"/>
<rect x="1014" y="435.25" width="13.25" height="40.5" fill="none" stroke="#9a9a9a" stroke-width="1.5"/>
<rect x="1030.5" y="440.75" width="15" height="35" fill="#7f7f7f" stroke="none" stroke-width="0"/>
<line x1="680" y1="374.5" x2="680" y2="468.75" stroke="#8f8f8f" stroke-width="1.3"/>
<line x1="676.4" y1="374.5" x2="683.6" y2="374.5" stroke="#8f8f8f" stroke-width="1.3"/>
<line x1="676.4" y1="468.75" x2="683.6" y2="468.75" stroke="#8f8f8f" stroke-width="1.3"/>
<line x1="850" y1="423.75" x2="850" y2="447.5" stroke="#8f8f8f" stroke-width="1.3"/>
<line x1="846.4" y1="423.75" x2="853.6" y2="423.75" stroke="#8f8f8f" stroke-width="1.3"/>
<line x1="846.4" y1="447.5" x2="853.6" y2="447.5" stroke="#8f8f8f" stroke-width="1.3"/>
<line x1="910" y1="425.5" x2="910" y2="436.75" stroke="#8f8f8f" stroke-width="1.3"/>
<line x1="906.4" y1="425.5" x2="913.6" y2="425.5" stroke="#8f8f8f" stroke-width="1.3"/>
<line x1="978" y1="430" x2="978" y2="444.5" stroke="#8f8f8f" stroke-width="1.3"/>
<line x1="974.4" y1="430" x2="981.6" y2="430" stroke="#8f8f8f" stroke-width="1.3"/>
<line x1="974.4" y1="444.5" x2="981.6" y2="444.5" stroke="#8f8f8f" stroke-width="1.3"/>
<line x1="995" y1="427" x2="995" y2="437" stroke="#8f8f8f" stroke-width="1.3"/>
<line x1="991.4" y1="427" x2="998.6" y2="427" stroke="#8f8f8f" stroke-width="1.3"/>
<line x1="1020.5" y1="425.5" x2="1020.5" y2="434.5" stroke="#8f8f8f" stroke-width="1.3"/>
<line x1="1016.9" y1="425.5" x2="1024.1" y2="425.5" stroke="#8f8f8f" stroke-width="1.3"/>
<rect x="630" y="437.6" width="14.25" height="5.4" rx="2.7" fill="#a9a9a9"/>
<rect x="672.5" y="437.6" width="14.5" height="5.4" rx="2.7" fill="#333333"/>
<rect x="689.5" y="437.6" width="15" height="5.4" rx="2.7" fill="#333333"/>
<rect x="715" y="437.6" width="14.25" height="5.4" rx="2.7" fill="#31b4cb"/>
<rect x="732" y="437.6" width="15" height="5.4" rx="2.7" fill="#31b4cb"/>
<rect x="757.5" y="437.6" width="14.25" height="5.4" rx="2.7" fill="#7e6aab"/>
<rect x="774.5" y="437.6" width="15" height="5.4" rx="2.7" fill="#7e6aab"/>
<rect x="800" y="437.6" width="14.5" height="5.4" rx="2.7" fill="#7e6aab"/>
<rect x="817" y="437.6" width="15.5" height="5.4" rx="2.7" fill="#7e6aab"/>
<rect x="842.5" y="437.6" width="15" height="5.4" rx="2.7" fill="#7e6aab"/>
<rect x="860" y="437.6" width="15" height="5.4" rx="2.7" fill="#7e6aab"/>
<rect x="885" y="437.6" width="15" height="5.4" rx="2.7" fill="#7e6aab"/>
<rect x="902.5" y="437.6" width="15.5" height="5.4" rx="2.7" fill="#7e6aab"/>
<rect x="927.5" y="437.6" width="15" height="5.4" rx="2.7" fill="#7e6aab"/>
<rect x="945" y="437.6" width="15.5" height="5.4" rx="2.7" fill="#7e6aab"/>
<rect x="970.5" y="437.6" width="15" height="5.4" rx="2.7" fill="#ff7f00"/>
<rect x="988" y="437.6" width="15" height="5.4" rx="2.7" fill="#ff7f00"/>
<rect x="1013.25" y="437.6" width="14.75" height="5.4" rx="2.7" fill="#a5d5a5"/>
<rect x="1030.5" y="437.6" width="15" height="5.4" rx="2.7" fill="#a5d5a5"/>
<circle cx="680" cy="315" r="2.75" fill="#333333"/>
<circle cx="676.25" cy="435" r="2.75" fill="#333333"/>
<circle cx="850" cy="408.75" r="2.75" fill="#7e6aab"/>
<circle cx="910" cy="412.5" r="2.75" fill="#7e6aab"/>
<circle cx="978" cy="421.25" r="2.75" fill="#ff7f00"/>
<circle cx="995" cy="415" r="2.75" fill="#ff7f00"/>
<circle cx="1018" cy="421.75" r="2.75" fill="#a5d5a5"/>
<circle cx="1022" cy="421.75" r="2.75" fill="#a5d5a5"/>
<circle cx="1020" cy="433.75" r="2.75" fill="#a5d5a5"/>
<text transform="translate(826.8 294.4) scale(1 1.04)" font-size="15.2" text-anchor="start" font-weight="normal" fill="#222222">TNF-α</text>
<rect x="907.75" y="325.75" width="17.25" height="7.75" fill="none" stroke="#9a9a9a" stroke-width="1.5"/>
<text transform="translate(936.75 335.1) scale(1 1.04)" font-size="15.5" text-anchor="start" font-weight="normal" fill="#222222">6h</text>
<rect x="984.25" y="325.5" width="19" height="8.75" fill="#7f7f7f" stroke="none" stroke-width="0"/>
<text transform="translate(1014 335.2) scale(1 1.04)" font-size="15.5" text-anchor="start" font-weight="normal" fill="#222222">48h</text>
<text transform="translate(581.9 384.75) rotate(-90) scale(1 1.04)" x="0" y="0" font-size="15.3" text-anchor="middle" font-weight="normal" fill="#222222">pg/ml</text>
<text transform="translate(538.12 284.4) scale(0.976 1)" font-size="30.96" font-weight="normal" fill="#000" style="stroke:none">D</text>
<line x1="84.25" y1="548.65" x2="84.25" y2="732.6" stroke="#454545" stroke-width="1.3"/>
<line x1="83.65" y1="732" x2="517" y2="732" stroke="#454545" stroke-width="1.3"/>
<line x1="76.75" y1="549.25" x2="84.25" y2="549.25" stroke="#454545" stroke-width="1.3"/>
<text transform="translate(74.75 553.55) scale(1 1.04)" font-size="12.8" text-anchor="end" font-weight="normal" fill="#222222">250</text>
<line x1="76.75" y1="585.8" x2="84.25" y2="585.8" stroke="#454545" stroke-width="1.3"/>
<text transform="translate(74.75 590.1) scale(1 1.04)" font-size="12.8" text-anchor="end" font-weight="normal" fill="#222222">200</text>
<line x1="76.75" y1="622.4" x2="84.25" y2="622.4" stroke="#454545" stroke-width="1.3"/>
<text transform="translate(74.75 626.7) scale(1 1.04)" font-size="12.8" text-anchor="end" font-weight="normal" fill="#222222">150</text>
<line x1="76.75" y1="658.9" x2="84.25" y2="658.9" stroke="#454545" stroke-width="1.3"/>
<text transform="translate(74.75 663.2) scale(1 1.04)" font-size="12.8" text-anchor="end" font-weight="normal" fill="#222222">100</text>
<line x1="76.75" y1="695.5" x2="84.25" y2="695.5" stroke="#454545" stroke-width="1.3"/>
<text transform="translate(74.75 699.8) scale(1 1.04)" font-size="12.8" text-anchor="end" font-weight="normal" fill="#222222">50</text>
<line x1="76.75" y1="732" x2="84.25" y2="732" stroke="#454545" stroke-width="1.3"/>
<text transform="translate(74.75 736.3) scale(1 1.04)" font-size="12.8" text-anchor="end" font-weight="normal" fill="#222222">0</text>
<line x1="108.25" y1="732" x2="108.25" y2="739.9" stroke="#454545" stroke-width="1.3"/>
<text transform="translate(108.25 752.3) scale(1 1.04)" font-size="12.55" text-anchor="middle" font-weight="normal" fill="#222222">PBS</text>
<line x1="150.85" y1="732" x2="150.85" y2="739.9" stroke="#454545" stroke-width="1.3"/>
<text transform="translate(150.85 752.3) scale(1 1.04)" font-size="12.55" text-anchor="middle" font-weight="normal" fill="#222222">MC3</text>
<line x1="193.45" y1="732" x2="193.45" y2="739.9" stroke="#454545" stroke-width="1.3"/>
<text transform="translate(193.45 752.3) scale(1 1.04)" font-size="12.55" text-anchor="middle" font-weight="normal" fill="#222222">C0-I1</text>
<line x1="236.05" y1="732" x2="236.05" y2="739.9" stroke="#454545" stroke-width="1.3"/>
<text transform="translate(236.05 752.3) scale(1 1.04)" font-size="12.55" text-anchor="middle" font-weight="normal" fill="#222222">C2-I0</text>
<line x1="278.65" y1="732" x2="278.65" y2="739.9" stroke="#454545" stroke-width="1.3"/>
<text transform="translate(278.65 752.3) scale(1 1.04)" font-size="12.55" text-anchor="middle" font-weight="normal" fill="#222222">C2'-I0</text>
<line x1="321.25" y1="732" x2="321.25" y2="739.9" stroke="#454545" stroke-width="1.3"/>
<text transform="translate(321.25 752.3) scale(1 1.04)" font-size="12.55" text-anchor="middle" font-weight="normal" fill="#222222">C1-I1</text>
<line x1="363.85" y1="732" x2="363.85" y2="739.9" stroke="#454545" stroke-width="1.3"/>
<text transform="translate(363.85 752.3) scale(1 1.04)" font-size="12.55" text-anchor="middle" font-weight="normal" fill="#222222">C1"-I1</text>
<line x1="406.45" y1="732" x2="406.45" y2="739.9" stroke="#454545" stroke-width="1.3"/>
<text transform="translate(406.45 752.3) scale(1 1.04)" font-size="12.55" text-anchor="middle" font-weight="normal" fill="#222222">C0-I2</text>
<line x1="449.05" y1="732" x2="449.05" y2="739.9" stroke="#454545" stroke-width="1.3"/>
<text transform="translate(449.05 752.3) scale(1 1.04)" font-size="12.55" text-anchor="middle" font-weight="normal" fill="#222222">C3-I0</text>
<line x1="491.65" y1="732" x2="491.65" y2="739.9" stroke="#454545" stroke-width="1.3"/>
<text transform="translate(491.65 752.3) scale(1 1.04)" font-size="12.55" text-anchor="middle" font-weight="normal" fill="#222222">C3-I1</text>
<rect x="93.25" y="725.75" width="14" height="6.25" fill="none" stroke="#9a9a9a" stroke-width="1.5"/>
<rect x="135.75" y="714.5" width="13.5" height="17.5" fill="none" stroke="#9a9a9a" stroke-width="1.5"/>
<rect x="152.5" y="720" width="15" height="12" fill="#7f7f7f" stroke="none" stroke-width="0"/>
<rect x="178.75" y="718.25" width="13" height="13.75" fill="none" stroke="#9a9a9a" stroke-width="1.5"/>
<rect x="195.5" y="715.5" width="15" height="16.5" fill="#7f7f7f" stroke="none" stroke-width="0"/>
<rect x="221.25" y="723.25" width="13.5" height="8.75" fill="none" stroke="#9a9a9a" stroke-width="1.5"/>
<rect x="238" y="720" width="14.5" height="12" fill="#7f7f7f" stroke="none" stroke-width="0"/>
<rect x="264" y="719" width="13.25" height="13" fill="none" stroke="#9a9a9a" stroke-width="1.5"/>
<rect x="280.5" y="715.75" width="15" height="16.25" fill="#7f7f7f" stroke="none" stroke-width="0"/>
<rect x="306.5" y="718.75" width="13.25" height="13.25" fill="none" stroke="#9a9a9a" stroke-width="1.5"/>
<rect x="323.25" y="717.5" width="15" height="14.5" fill="#7f7f7f" stroke="none" stroke-width="0"/>
<rect x="349" y="714" width="13.5" height="18" fill="none" stroke="#9a9a9a" stroke-width="1.5"/>
<rect x="365.5" y="695" width="15.25" height="37" fill="#7f7f7f" stroke="none" stroke-width="0"/>
<rect x="391.5" y="718.75" width="13.25" height="13.25" fill="none" stroke="#9a9a9a" stroke-width="1.5"/>
<rect x="408" y="715.5" width="15.75" height="16.5" fill="#7f7f7f" stroke="none" stroke-width="0"/>
<rect x="434" y="717.75" width="13.5" height="14.25" fill="none" stroke="#9a9a9a" stroke-width="1.5"/>
<rect x="450.75" y="676.25" width="15.5" height="55.75" fill="#7f7f7f" stroke="none" stroke-width="0"/>
<rect x="477" y="715" width="13" height="17" fill="none" stroke="#9a9a9a" stroke-width="1.5"/>
<rect x="493.75" y="717" width="15" height="15" fill="#7f7f7f" stroke="none" stroke-width="0"/>
<line x1="100" y1="716.75" x2="100" y2="725" stroke="#8f8f8f" stroke-width="1.3"/>
<line x1="96.4" y1="716.75" x2="103.6" y2="716.75" stroke="#8f8f8f" stroke-width="1.3"/>
<line x1="142.5" y1="697" x2="142.5" y2="713.75" stroke="#8f8f8f" stroke-width="1.3"/>
<line x1="138.9" y1="697" x2="146.1" y2="697" stroke="#8f8f8f" stroke-width="1.3"/>
<line x1="160" y1="706.75" x2="160" y2="720" stroke="#8f8f8f" stroke-width="1.3"/>
<line x1="156.4" y1="706.75" x2="163.6" y2="706.75" stroke="#8f8f8f" stroke-width="1.3"/>
<line x1="185.5" y1="701.75" x2="185.5" y2="717.5" stroke="#8f8f8f" stroke-width="1.3"/>
<line x1="181.9" y1="701.75" x2="189.1" y2="701.75" stroke="#8f8f8f" stroke-width="1.3"/>
<line x1="203" y1="701.75" x2="203" y2="715.5" stroke="#8f8f8f" stroke-width="1.3"/>
<line x1="199.4" y1="701.75" x2="206.6" y2="701.75" stroke="#8f8f8f" stroke-width="1.3"/>
<line x1="228" y1="710.5" x2="228" y2="722.5" stroke="#8f8f8f" stroke-width="1.3"/>
<line x1="224.4" y1="710.5" x2="231.6" y2="710.5" stroke="#8f8f8f" stroke-width="1.3"/>
<line x1="270.75" y1="703.75" x2="270.75" y2="718.25" stroke="#8f8f8f" stroke-width="1.3"/>
<line x1="267.15" y1="703.75" x2="274.35" y2="703.75" stroke="#8f8f8f" stroke-width="1.3"/>
<line x1="288" y1="704.5" x2="288" y2="715.75" stroke="#8f8f8f" stroke-width="1.3"/>
<line x1="284.4" y1="704.5" x2="291.6" y2="704.5" stroke="#8f8f8f" stroke-width="1.3"/>
<line x1="313" y1="703" x2="313" y2="718" stroke="#8f8f8f" stroke-width="1.3"/>
<line x1="309.4" y1="703" x2="316.6" y2="703" stroke="#8f8f8f" stroke-width="1.3"/>
<line x1="330.5" y1="704.5" x2="330.5" y2="717.5" stroke="#8f8f8f" stroke-width="1.3"/>
<line x1="326.9" y1="704.5" x2="334.1" y2="704.5" stroke="#8f8f8f" stroke-width="1.3"/>
<line x1="355.75" y1="692" x2="355.75" y2="713.25" stroke="#8f8f8f" stroke-width="1.3"/>
<line x1="352.15" y1="692" x2="359.35" y2="692" stroke="#8f8f8f" stroke-width="1.3"/>
<line x1="373" y1="659.25" x2="373" y2="695" stroke="#8f8f8f" stroke-width="1.3"/>
<line x1="369.4" y1="659.25" x2="376.6" y2="659.25" stroke="#8f8f8f" stroke-width="1.3"/>
<line x1="398.25" y1="707" x2="398.25" y2="718" stroke="#8f8f8f" stroke-width="1.3"/>
<line x1="394.65" y1="707" x2="401.85" y2="707" stroke="#8f8f8f" stroke-width="1.3"/>
<line x1="415.75" y1="700" x2="415.75" y2="715.5" stroke="#8f8f8f" stroke-width="1.3"/>
<line x1="412.15" y1="700" x2="419.35" y2="700" stroke="#8f8f8f" stroke-width="1.3"/>
<line x1="440.75" y1="705.5" x2="440.75" y2="717" stroke="#8f8f8f" stroke-width="1.3"/>
<line x1="437.15" y1="705.5" x2="444.35" y2="705.5" stroke="#8f8f8f" stroke-width="1.3"/>
<line x1="458.25" y1="615.75" x2="458.25" y2="676.25" stroke="#8f8f8f" stroke-width="1.3"/>
<line x1="454.65" y1="615.75" x2="461.85" y2="615.75" stroke="#8f8f8f" stroke-width="1.3"/>
<line x1="483.25" y1="700" x2="483.25" y2="714.25" stroke="#8f8f8f" stroke-width="1.3"/>
<line x1="479.65" y1="700" x2="486.85" y2="700" stroke="#8f8f8f" stroke-width="1.3"/>
<line x1="501.25" y1="705" x2="501.25" y2="717" stroke="#8f8f8f" stroke-width="1.3"/>
<line x1="497.65" y1="705" x2="504.85" y2="705" stroke="#8f8f8f" stroke-width="1.3"/>
<rect x="92.5" y="725.9" width="15.5" height="5.4" rx="2.7" fill="#a9a9a9"/>
<rect x="152.5" y="726.5" width="15" height="5.4" rx="2.7" fill="#333333"/>
<rect x="220.5" y="726.5" width="15" height="5.4" rx="2.7" fill="#7e6aab"/>
<rect x="238" y="726.5" width="14.5" height="5.4" rx="2.7" fill="#7e6aab"/>
<rect x="263.25" y="726.5" width="14.75" height="5.4" rx="2.7" fill="#7e6aab"/>
<rect x="305.75" y="726.5" width="14.75" height="5.4" rx="2.7" fill="#7e6aab"/>
<rect x="323.25" y="726.5" width="15" height="5.4" rx="2.7" fill="#7e6aab"/>
<circle cx="100" cy="705.5" r="2.75" fill="#a9a9a9"/>
<circle cx="142.5" cy="687.5" r="2.75" fill="#333333"/>
<circle cx="139.25" cy="704.25" r="2.75" fill="#333333"/>
<circle cx="145.5" cy="702.5" r="2.75" fill="#333333"/>
<circle cx="142.5" cy="713.75" r="2.75" fill="#333333"/>
<circle cx="137.5" cy="729.2" r="2.75" fill="#333333"/>
<circle cx="142.5" cy="729.2" r="2.75" fill="#333333"/>
<circle cx="147.5" cy="729.2" r="2.75" fill="#333333"/>
<circle cx="157.5" cy="704.25" r="2.75" fill="#333333"/>
<circle cx="162.5" cy="705.5" r="2.75" fill="#333333"/>
<circle cx="160" cy="713" r="2.75" fill="#333333"/>
<circle cx="185" cy="694.25" r="2.75" fill="#31b4cb"/>
<circle cx="183.75" cy="705.5" r="2.75" fill="#31b4cb"/>
<circle cx="187" cy="703" r="2.75" fill="#31b4cb"/>
<circle cx="180.5" cy="729.2" r="2.75" fill="#31b4cb"/>
<circle cx="185.3" cy="729.2" r="2.75" fill="#31b4cb"/>
<circle cx="190" cy="729.2" r="2.75" fill="#31b4cb"/>
<circle cx="202" cy="700" r="2.75" fill="#31b4cb"/>
<circle cx="208" cy="701.75" r="2.75" fill="#31b4cb"/>
<circle cx="197.5" cy="706.25" r="2.75" fill="#31b4cb"/>
<circle cx="202.5" cy="711.75" r="2.75" fill="#31b4cb"/>
<circle cx="198" cy="729.2" r="2.75" fill="#31b4cb"/>
<circle cx="203" cy="729.2" r="2.75" fill="#31b4cb"/>
<circle cx="208" cy="729.2" r="2.75" fill="#31b4cb"/>
<circle cx="226.25" cy="703.75" r="2.75" fill="#7e6aab"/>
<circle cx="228" cy="705.5" r="2.75" fill="#7e6aab"/>
<circle cx="240" cy="711.25" r="2.75" fill="#7e6aab"/>
<circle cx="243.75" cy="712.5" r="2.75" fill="#7e6aab"/>
<circle cx="247.5" cy="712.5" r="2.75" fill="#7e6aab"/>
<circle cx="250" cy="711.25" r="2.75" fill="#7e6aab"/>
<circle cx="246.25" cy="716.25" r="2.75" fill="#7e6aab"/>
<circle cx="267" cy="704.5" r="2.75" fill="#7e6aab"/>
<circle cx="270.5" cy="702.5" r="2.75" fill="#7e6aab"/>
<circle cx="274.25" cy="703.75" r="2.75" fill="#7e6aab"/>
<circle cx="283" cy="702" r="2.75" fill="#7e6aab"/>
<circle cx="293" cy="704.5" r="2.75" fill="#7e6aab"/>
<circle cx="288" cy="707" r="2.75" fill="#7e6aab"/>
<circle cx="288" cy="712.5" r="2.75" fill="#7e6aab"/>
<circle cx="288" cy="724.25" r="2.75" fill="#7e6aab"/>
<circle cx="283" cy="728.75" r="2.75" fill="#7e6aab"/>
<circle cx="293" cy="728.75" r="2.75" fill="#7e6aab"/>
<circle cx="309.5" cy="703" r="2.75" fill="#7e6aab"/>
<circle cx="313" cy="701.25" r="2.75" fill="#7e6aab"/>
<circle cx="316.5" cy="702.5" r="2.75" fill="#7e6aab"/>
<circle cx="327.5" cy="704.5" r="2.75" fill="#7e6aab"/>
<circle cx="333" cy="704.5" r="2.75" fill="#7e6aab"/>
<circle cx="325.5" cy="711.25" r="2.75" fill="#7e6aab"/>
<circle cx="330.5" cy="713" r="2.75" fill="#7e6aab"/>
<circle cx="355.75" cy="679.25" r="2.75" fill="#7e6aab"/>
<circle cx="357.5" cy="695.75" r="2.75" fill="#7e6aab"/>
<circle cx="353.75" cy="701.25" r="2.75" fill="#7e6aab"/>
<circle cx="351" cy="729.2" r="2.75" fill="#7e6aab"/>
<circle cx="356" cy="729.2" r="2.75" fill="#7e6aab"/>
<circle cx="361" cy="729.2" r="2.75" fill="#7e6aab"/>
<circle cx="373" cy="641.75" r="2.75" fill="#7e6aab"/>
<circle cx="373" cy="647.5" r="2.75" fill="#7e6aab"/>
<circle cx="367.5" cy="704.5" r="2.75" fill="#7e6aab"/>
<circle cx="377.5" cy="704.5" r="2.75" fill="#7e6aab"/>
<circle cx="373" cy="708" r="2.75" fill="#7e6aab"/>
<circle cx="370" cy="729.2" r="2.75" fill="#7e6aab"/>
<circle cx="376.25" cy="729.2" r="2.75" fill="#7e6aab"/>
<circle cx="393" cy="708.25" r="2.75" fill="#7e6aab"/>
<circle cx="398.25" cy="708.25" r="2.75" fill="#7e6aab"/>
<circle cx="403.25" cy="708.75" r="2.75" fill="#7e6aab"/>
<circle cx="399.25" cy="712" r="2.75" fill="#7e6aab"/>
<circle cx="393" cy="729.2" r="2.75" fill="#7e6aab"/>
<circle cx="398" cy="729.2" r="2.75" fill="#7e6aab"/>
<circle cx="403" cy="729.2" r="2.75" fill="#7e6aab"/>
<circle cx="415.75" cy="691.25" r="2.75" fill="#7e6aab"/>
<circle cx="420.75" cy="703.75" r="2.75" fill="#7e6aab"/>
<circle cx="414.25" cy="709.5" r="2.75" fill="#7e6aab"/>
<circle cx="415.75" cy="716.75" r="2.75" fill="#7e6aab"/>
<circle cx="410.5" cy="729.2" r="2.75" fill="#7e6aab"/>
<circle cx="416" cy="729.2" r="2.75" fill="#7e6aab"/>
<circle cx="421" cy="729.2" r="2.75" fill="#7e6aab"/>
<circle cx="435.75" cy="704.5" r="2.75" fill="#ff7f00"/>
<circle cx="440.75" cy="703.75" r="2.75" fill="#ff7f00"/>
<circle cx="446.25" cy="708.25" r="2.75" fill="#ff7f00"/>
<circle cx="440.5" cy="710.75" r="2.75" fill="#ff7f00"/>
<circle cx="435.5" cy="729.2" r="2.75" fill="#ff7f00"/>
<circle cx="440.5" cy="729.2" r="2.75" fill="#ff7f00"/>
<circle cx="445.5" cy="729.2" r="2.75" fill="#ff7f00"/>
<circle cx="458.25" cy="570.5" r="2.75" fill="#ff7f00"/>
<circle cx="458.25" cy="635.75" r="2.75" fill="#ff7f00"/>
<circle cx="458.25" cy="646.25" r="2.75" fill="#ff7f00"/>
<circle cx="453.25" cy="712" r="2.75" fill="#ff7f00"/>
<circle cx="463.25" cy="709.5" r="2.75" fill="#ff7f00"/>
<circle cx="453.25" cy="729.2" r="2.75" fill="#ff7f00"/>
<circle cx="463.25" cy="729.2" r="2.75" fill="#ff7f00"/>
<circle cx="483.25" cy="697.5" r="2.75" fill="#a5d5a5"/>
<circle cx="478.75" cy="703.25" r="2.75" fill="#a5d5a5"/>
<circle cx="487.5" cy="703.25" r="2.75" fill="#a5d5a5"/>
<circle cx="483.25" cy="706.25" r="2.75" fill="#a5d5a5"/>
<circle cx="478.5" cy="729.2" r="2.75" fill="#a5d5a5"/>
<circle cx="483.5" cy="729.2" r="2.75" fill="#a5d5a5"/>
<circle cx="488.5" cy="729.2" r="2.75" fill="#a5d5a5"/>
<circle cx="496.25" cy="706.25" r="2.75" fill="#a5d5a5"/>
<circle cx="505.5" cy="702.5" r="2.75" fill="#a5d5a5"/>
<circle cx="505.5" cy="711.25" r="2.75" fill="#a5d5a5"/>
<circle cx="496.5" cy="729.2" r="2.75" fill="#a5d5a5"/>
<circle cx="501.2" cy="729.2" r="2.75" fill="#a5d5a5"/>
<circle cx="506" cy="729.2" r="2.75" fill="#a5d5a5"/>
<circle cx="458.25" cy="558" r="1.7" fill="#111"/>
<text transform="translate(287.1 551) scale(1 1.04)" font-size="15.2" text-anchor="start" font-weight="normal" fill="#222222">IL-1β</text>
<rect x="292" y="576.5" width="17.25" height="7.75" fill="none" stroke="#9a9a9a" stroke-width="1.5"/>
<text transform="translate(321 585.8) scale(1 1.04)" font-size="15.5" text-anchor="start" font-weight="normal" fill="#222222">6h</text>
<rect x="372" y="575.75" width="19.25" height="9.25" fill="#7f7f7f" stroke="none" stroke-width="0"/>
<text transform="translate(402 586) scale(1 1.04)" font-size="15.5" text-anchor="start" font-weight="normal" fill="#222222">48h</text>
<text transform="translate(43.1 640.6) rotate(-90) scale(1 1.04)" x="0" y="0" font-size="15.3" text-anchor="middle" font-weight="normal" fill="#222222">pg/ml</text>
<text transform="translate(16.08 549.4) scale(0.954 1)" font-size="30.96" font-weight="normal" fill="#000" style="stroke:none">E</text>
<line x1="616.75" y1="550.15" x2="616.75" y2="734.35" stroke="#454545" stroke-width="1.3"/>
<line x1="616.15" y1="733.75" x2="1050.2" y2="733.75" stroke="#454545" stroke-width="1.3"/>
<line x1="609.25" y1="550.75" x2="616.75" y2="550.75" stroke="#454545" stroke-width="1.3"/>
<text transform="translate(607.25 555.05) scale(1 1.04)" font-size="12.8" text-anchor="end" font-weight="normal" fill="#222222">300</text>
<line x1="609.25" y1="611.75" x2="616.75" y2="611.75" stroke="#454545" stroke-width="1.3"/>
<text transform="translate(607.25 616.05) scale(1 1.04)" font-size="12.8" text-anchor="end" font-weight="normal" fill="#222222">200</text>
<line x1="609.25" y1="672.75" x2="616.75" y2="672.75" stroke="#454545" stroke-width="1.3"/>
<text transform="translate(607.25 677.05) scale(1 1.04)" font-size="12.8" text-anchor="end" font-weight="normal" fill="#222222">100</text>
<line x1="609.25" y1="733.75" x2="616.75" y2="733.75" stroke="#454545" stroke-width="1.3"/>
<text transform="translate(607.25 738.05) scale(1 1.04)" font-size="12.8" text-anchor="end" font-weight="normal" fill="#222222">0</text>
<line x1="641.25" y1="733.75" x2="641.25" y2="741.65" stroke="#454545" stroke-width="1.3"/>
<text transform="translate(641.25 754.05) scale(1 1.04)" font-size="12.55" text-anchor="middle" font-weight="normal" fill="#222222">PBS</text>
<line x1="683.87" y1="733.75" x2="683.87" y2="741.65" stroke="#454545" stroke-width="1.3"/>
<text transform="translate(683.87 754.05) scale(1 1.04)" font-size="12.55" text-anchor="middle" font-weight="normal" fill="#222222">MC3</text>
<line x1="726.49" y1="733.75" x2="726.49" y2="741.65" stroke="#454545" stroke-width="1.3"/>
<text transform="translate(726.49 754.05) scale(1 1.04)" font-size="12.55" text-anchor="middle" font-weight="normal" fill="#222222">C0-I1</text>
<line x1="769.11" y1="733.75" x2="769.11" y2="741.65" stroke="#454545" stroke-width="1.3"/>
<text transform="translate(769.11 754.05) scale(1 1.04)" font-size="12.55" text-anchor="middle" font-weight="normal" fill="#222222">C2-I0</text>
<line x1="811.73" y1="733.75" x2="811.73" y2="741.65" stroke="#454545" stroke-width="1.3"/>
<text transform="translate(811.73 754.05) scale(1 1.04)" font-size="12.55" text-anchor="middle" font-weight="normal" fill="#222222">C2'-I0</text>
<line x1="854.35" y1="733.75" x2="854.35" y2="741.65" stroke="#454545" stroke-width="1.3"/>
<text transform="translate(854.35 754.05) scale(1 1.04)" font-size="12.55" text-anchor="middle" font-weight="normal" fill="#222222">C1-I1</text>
<line x1="896.97" y1="733.75" x2="896.97" y2="741.65" stroke="#454545" stroke-width="1.3"/>
<text transform="translate(896.97 754.05) scale(1 1.04)" font-size="12.55" text-anchor="middle" font-weight="normal" fill="#222222">C1"-I1</text>
<line x1="939.59" y1="733.75" x2="939.59" y2="741.65" stroke="#454545" stroke-width="1.3"/>
<text transform="translate(939.59 754.05) scale(1 1.04)" font-size="12.55" text-anchor="middle" font-weight="normal" fill="#222222">C0-I2</text>
<line x1="982.21" y1="733.75" x2="982.21" y2="741.65" stroke="#454545" stroke-width="1.3"/>
<text transform="translate(982.21 754.05) scale(1 1.04)" font-size="12.55" text-anchor="middle" font-weight="normal" fill="#222222">C3-I0</text>
<line x1="1024.83" y1="733.75" x2="1024.83" y2="741.65" stroke="#454545" stroke-width="1.3"/>
<text transform="translate(1024.83 754.05) scale(1 1.04)" font-size="12.55" text-anchor="middle" font-weight="normal" fill="#222222">C3-I1</text>
<rect x="668.75" y="713.75" width="13" height="20" fill="none" stroke="#9a9a9a" stroke-width="1.5"/>
<rect x="685" y="708.25" width="15.5" height="25.5" fill="#7f7f7f" stroke="none" stroke-width="0"/>
<rect x="770" y="723.25" width="15.5" height="10.5" fill="#7f7f7f" stroke="none" stroke-width="0"/>
<rect x="881.85" y="724.35" width="13.3" height="9.4" fill="none" stroke="#9a9a9a" stroke-width="1.5"/>
<rect x="898" y="689.6" width="15.5" height="44.15" fill="#7f7f7f" stroke="none" stroke-width="0"/>
<rect x="924.15" y="726.65" width="13.3" height="7.1" fill="none" stroke="#9a9a9a" stroke-width="1.5"/>
<rect x="940.7" y="701.5" width="15.6" height="32.25" fill="#7f7f7f" stroke="none" stroke-width="0"/>
<rect x="966.95" y="727.45" width="13.3" height="6.3" fill="none" stroke="#9a9a9a" stroke-width="1.5"/>
<rect x="983" y="702.6" width="15.6" height="31.15" fill="#7f7f7f" stroke="none" stroke-width="0"/>
<rect x="1009.45" y="726.15" width="13.5" height="7.6" fill="none" stroke="#9a9a9a" stroke-width="1.5"/>
<line x1="675" y1="680" x2="675" y2="713" stroke="#8f8f8f" stroke-width="1.3"/>
<line x1="671.4" y1="680" x2="678.6" y2="680" stroke="#8f8f8f" stroke-width="1.3"/>
<line x1="692.5" y1="668.75" x2="692.5" y2="708.25" stroke="#8f8f8f" stroke-width="1.3"/>
<line x1="688.9" y1="668.75" x2="696.1" y2="668.75" stroke="#8f8f8f" stroke-width="1.3"/>
<line x1="777.5" y1="708.75" x2="777.5" y2="723.25" stroke="#8f8f8f" stroke-width="1.3"/>
<line x1="773.9" y1="708.75" x2="781.1" y2="708.75" stroke="#8f8f8f" stroke-width="1.3"/>
<line x1="803.3" y1="726.2" x2="803.3" y2="733.75" stroke="#8f8f8f" stroke-width="1.3"/>
<line x1="799.7" y1="726.2" x2="806.9" y2="726.2" stroke="#8f8f8f" stroke-width="1.3"/>
<line x1="863" y1="722.8" x2="863" y2="733.75" stroke="#8f8f8f" stroke-width="1.3"/>
<line x1="859.4" y1="722.8" x2="866.6" y2="722.8" stroke="#8f8f8f" stroke-width="1.3"/>
<line x1="888.4" y1="703.3" x2="888.4" y2="723.6" stroke="#8f8f8f" stroke-width="1.3"/>
<line x1="884.8" y1="703.3" x2="892" y2="703.3" stroke="#8f8f8f" stroke-width="1.3"/>
<line x1="905.7" y1="619.6" x2="905.7" y2="689.6" stroke="#8f8f8f" stroke-width="1.3"/>
<line x1="902.1" y1="619.6" x2="909.3" y2="619.6" stroke="#8f8f8f" stroke-width="1.3"/>
<line x1="930.9" y1="715.5" x2="930.9" y2="725.9" stroke="#8f8f8f" stroke-width="1.3"/>
<line x1="927.3" y1="715.5" x2="934.5" y2="715.5" stroke="#8f8f8f" stroke-width="1.3"/>
<line x1="948.5" y1="651" x2="948.5" y2="701.5" stroke="#8f8f8f" stroke-width="1.3"/>
<line x1="944.9" y1="651" x2="952.1" y2="651" stroke="#8f8f8f" stroke-width="1.3"/>
<line x1="973.4" y1="726.2" x2="973.4" y2="726.7" stroke="#8f8f8f" stroke-width="1.3"/>
<line x1="969.8" y1="726.2" x2="977" y2="726.2" stroke="#8f8f8f" stroke-width="1.3"/>
<line x1="990.8" y1="652" x2="990.8" y2="702.6" stroke="#8f8f8f" stroke-width="1.3"/>
<line x1="987.2" y1="652" x2="994.4" y2="652" stroke="#8f8f8f" stroke-width="1.3"/>
<line x1="1015.9" y1="717.6" x2="1015.9" y2="725.4" stroke="#8f8f8f" stroke-width="1.3"/>
<line x1="1012.3" y1="717.6" x2="1019.5" y2="717.6" stroke="#8f8f8f" stroke-width="1.3"/>
<line x1="1033.3" y1="723.6" x2="1033.3" y2="733.75" stroke="#8f8f8f" stroke-width="1.3"/>
<line x1="1029.7" y1="723.6" x2="1036.9" y2="723.6" stroke="#8f8f8f" stroke-width="1.3"/>
<rect x="625.75" y="728.5" width="14.25" height="5.4" rx="2.7" fill="#a9a9a9"/>
<rect x="685" y="728.5" width="15.5" height="5.4" rx="2.7" fill="#333333"/>
<rect x="710.75" y="728.5" width="14.25" height="5.4" rx="2.7" fill="#31b4cb"/>
<rect x="728" y="728.5" width="14.5" height="5.4" rx="2.7" fill="#31b4cb"/>
<rect x="753" y="728.5" width="14.5" height="5.4" rx="2.7" fill="#7e6aab"/>
<rect x="770" y="728.5" width="15.5" height="5.4" rx="2.7" fill="#7e6aab"/>
<rect x="796" y="728.5" width="14.6" height="5.4" rx="2.7" fill="#7e6aab"/>
<rect x="813.2" y="728.5" width="14.8" height="5.4" rx="2.7" fill="#7e6aab"/>
<rect x="838.3" y="728.5" width="14.8" height="5.4" rx="2.7" fill="#7e6aab"/>
<rect x="855.7" y="728.5" width="15" height="5.4" rx="2.7" fill="#7e6aab"/>
<rect x="881.1" y="728.5" width="14.8" height="5.4" rx="2.7" fill="#7e6aab"/>
<rect x="898" y="728.5" width="15.5" height="5.4" rx="2.7" fill="#7e6aab"/>
<rect x="923.4" y="728.5" width="14.8" height="5.4" rx="2.7" fill="#7e6aab"/>
<rect x="940.7" y="728.5" width="15.6" height="5.4" rx="2.7" fill="#7e6aab"/>
<rect x="966.2" y="728.5" width="14.8" height="5.4" rx="2.7" fill="#ff7f00"/>
<rect x="983" y="728.5" width="15.6" height="5.4" rx="2.7" fill="#ff7f00"/>
<rect x="1008.7" y="728.5" width="15" height="5.4" rx="2.7" fill="#a5d5a5"/>
<rect x="1026.3" y="728.5" width="14.3" height="5.4" rx="2.7" fill="#a5d5a5"/>
<circle cx="675" cy="643" r="2.75" fill="#333333"/>
<circle cx="675" cy="699.25" r="2.75" fill="#333333"/>
<circle cx="670" cy="725" r="2.75" fill="#333333"/>
<circle cx="672.5" cy="727.5" r="2.75" fill="#333333"/>
<circle cx="678.75" cy="730" r="2.75" fill="#333333"/>
<circle cx="681" cy="730" r="2.75" fill="#333333"/>
<circle cx="670" cy="731" r="2.75" fill="#333333"/>
<circle cx="692.5" cy="624.25" r="2.75" fill="#333333"/>
<circle cx="690.5" cy="704.5" r="2.75" fill="#333333"/>
<circle cx="694.25" cy="702.5" r="2.75" fill="#333333"/>
<circle cx="731.75" cy="726.25" r="2.75" fill="#31b4cb"/>
<circle cx="735" cy="728" r="2.75" fill="#31b4cb"/>
<circle cx="777" cy="704.5" r="2.75" fill="#7e6aab"/>
<circle cx="780.5" cy="700" r="2.75" fill="#7e6aab"/>
<circle cx="803.3" cy="722.8" r="2.75" fill="#7e6aab"/>
<circle cx="820.2" cy="725.4" r="2.75" fill="#7e6aab"/>
<circle cx="816.3" cy="728.7" r="2.75" fill="#7e6aab"/>
<circle cx="863" cy="715.8" r="2.75" fill="#7e6aab"/>
<circle cx="888.4" cy="678.2" r="2.75" fill="#7e6aab"/>
<circle cx="905.7" cy="582.8" r="2.75" fill="#7e6aab"/>
<circle cx="905.7" cy="591.9" r="2.75" fill="#7e6aab"/>
<circle cx="902.4" cy="728" r="2.75" fill="#7e6aab"/>
<circle cx="930.9" cy="705.4" r="2.75" fill="#7e6aab"/>
<circle cx="930.9" cy="718.4" r="2.75" fill="#7e6aab"/>
<circle cx="948" cy="630" r="2.75" fill="#7e6aab"/>
<circle cx="951.1" cy="625.6" r="2.75" fill="#7e6aab"/>
<circle cx="973.4" cy="722" r="2.75" fill="#ff7f00"/>
<circle cx="990.8" cy="609.2" r="2.75" fill="#ff7f00"/>
<circle cx="990.8" cy="652.8" r="2.75" fill="#ff7f00"/>
<circle cx="1012.6" cy="718.1" r="2.75" fill="#a5d5a5"/>
<circle cx="1015.9" cy="715.5" r="2.75" fill="#a5d5a5"/>
<circle cx="1019.3" cy="716.3" r="2.75" fill="#a5d5a5"/>
<circle cx="1033.3" cy="717.1" r="2.75" fill="#a5d5a5"/>
<text transform="translate(808.3 553.7) scale(1 1.04)" font-size="15.2" text-anchor="start" font-weight="normal" fill="#222222">IL-10</text>
<rect x="922.85" y="569.25" width="17.1" height="7.6" fill="none" stroke="#9a9a9a" stroke-width="1.5"/>
<text transform="translate(951.7 578.9) scale(1 1.04)" font-size="15.5" text-anchor="start" font-weight="normal" fill="#222222">6h</text>
<rect x="985.6" y="569" width="18.9" height="8.6" fill="#7f7f7f" stroke="none" stroke-width="0"/>
<text transform="translate(1015.25 579) scale(1 1.04)" font-size="15.5" text-anchor="start" font-weight="normal" fill="#222222">48h</text>
<text transform="translate(576.9 642.5) rotate(-90) scale(1 1.04)" x="0" y="0" font-size="15.3" text-anchor="middle" font-weight="normal" fill="#222222">pg/ml</text>
<text transform="translate(541.57 551.3) scale(0.906 1)" font-size="31.4" font-weight="normal" fill="#000" style="stroke:none">F</text>
<text transform="translate(16.34 803.91) scale(0.879 1)" font-size="29.52" font-weight="bold" fill="#000" style="stroke:none">G</text>
<g transform="translate(44.6 857.3) scale(0.99)">
<path d="M11.6,54.6 C11.2,37 19.5,22.5 33.4,19.6 C35.5,13 40,7.5 48,5.2 C56,3 66,3.6 74,7.3 C78.5,9.4 80.6,12.5 82.2,15.6 C84.2,18.8 88,19.2 95.8,19.1 L95.6,19.9 C89,20.6 85.5,21 83.6,19.7 C80.6,17.5 79.4,14.6 76.9,13.4 C70,9 62.5,7.2 55.6,7.2 C47.5,7.6 42.3,11.5 41,15.2 C40.5,17.3 40.6,19 41,19.9 C52.5,22.5 62.3,35 62.2,54.6" fill="#fff" stroke="#000" stroke-width="1.2" stroke-linejoin="round"/>
<path d="M41.2,12.8 C44.5,8.4 50,6 56,5.8 C64,5.8 71,8.2 76,11.6 C78.8,13.8 80.3,16.8 83,18.9" fill="none" stroke="#000" stroke-width="0.55"/>
<path d="M30.6,61.6 C29.8,56 24.5,53 18.5,53.2 C11,53.5 6.3,57 6.3,61.8 C6.3,66 9.5,68.8 14,69.6 C15.6,70 16.1,71 16.6,72.2 C20,82.5 27.5,89.9 37,89.9 C46.5,89.9 53.8,82.5 57.4,72 C57.9,70.8 58.8,70.3 60,69.9 C64.2,68.6 66.9,65.8 66.9,62 C66.9,57 61.5,53.4 54.8,53.4 C48.3,53.4 43.2,57 42.2,62" fill="#fff" stroke="#000" stroke-width="1.2" stroke-linejoin="round"/>
<path d="M9.3,61.8 C11.5,57 20.5,53.8 26,58.4" fill="none" stroke="#8a8a8a" stroke-width="1.6"/>
<path d="M46.8,58.3 C52.5,54.2 61.8,56.2 63.9,61.8" fill="none" stroke="#8a8a8a" stroke-width="1.6"/>
<ellipse cx="26.9" cy="73.2" rx="3.9" ry="3.3" fill="#000"/>
<ellipse cx="46.3" cy="73.1" rx="3.9" ry="3.3" fill="#000"/>
<path d="M33.1,80.6 C33.4,79.4 40.3,79.4 40.6,80.6 C40.8,82.2 38.8,84.3 36.8,84.3 C34.9,84.3 32.9,82.2 33.1,80.6 Z" fill="#000"/>
<path d="M10.2,82.9 C14,81.2 20,80.6 25.2,81.8 M13.4,85.7 C16,83.2 21,82.2 25.2,82.6 M47.6,81.6 C52,80.6 58,81 63,82.8 M47.8,82.2 C52,82 56.3,83 59.4,85.3" fill="none" stroke="#9a9a9a" stroke-width="0.7"/>
</g>
<text transform="translate(53.54 979.9) scale(1 1.04)" font-size="17.8" text-anchor="start" font-weight="normal" fill="#111">BALB/c</text>
<line x1="155" y1="937.8" x2="274" y2="937.8" stroke="#111" stroke-width="2.4"/>
<circle cx="155" cy="938.3" r="6.8" fill="#5f5f5f"/>
<circle cx="274.3" cy="940" r="6.9" fill="#c45500"/>
<g transform="translate(162.1 922.5) rotate(-39.7)"><line x1="0" y1="0" x2="8" y2="0" stroke="#2e2a2a" stroke-width="2.3" stroke-linecap="round"/><path d="M6.5,-1.6 L9.5,-4.2 L9.5,4.2 L6.5,1.6 Z" fill="#2e2a2a"/><rect x="9.6" y="-3.9" width="37.2" height="7.8" fill="#fff" stroke="#2e2a2a" stroke-width="2.0"/><rect x="10.6" y="-3.2" width="20.5" height="4.6" fill="#2e2a2a"/><path d="M13.5,-2.6 v2.8 M16,-2.6 v2.8 M18.5,-2.6 v2.8 M21,-2.6 v2.8 M23.5,-2.6 v2.8 M26,-2.6 v2.8" stroke="#6a6464" stroke-width="0.7"/><line x1="47" y1="-7.6" x2="47" y2="7.6" stroke="#2e2a2a" stroke-width="2.3"/><rect x="47" y="-1.6" width="3.6" height="3.2" fill="#2e2a2a"/></g>
<text transform="translate(156.6 894.6) scale(1 1.04)" font-size="17.8" text-anchor="start" font-weight="normal" fill="#111" style="font-style:italic">i.v.</text>
<text transform="translate(255.24 885.8) scale(1 1.04)" font-size="17.8" text-anchor="start" font-weight="normal" fill="#111">Blood</text>
<g transform="translate(275.4 898.8) scale(1)"><path d="M0,0 C1.6,0 8.7,7.8 8.7,14.8 C8.7,20.2 4.8,24 0,24 C-4.8,24 -8.7,20.2 -8.7,14.8 C-8.7,7.8 -1.6,0 0,0 Z" fill="url(#dg3)"/><ellipse cx="-2.7" cy="9.8" rx="2.1" ry="4.6" transform="rotate(22 -2.7 9.8)" fill="#f24a60"/></g>
<text transform="translate(289.9 946.7) scale(1 1.04)" font-size="17.8" text-anchor="start" font-weight="normal" fill="#111">7 day</text>
<circle cx="154.3" cy="982.3" r="6.7" fill="#5f5f5f"/>
<text transform="translate(170.14 989) scale(1 1.04)" font-size="17.8" text-anchor="start" font-weight="normal" fill="#111">Fluc-mRNA: 0.5 mg/kg</text>
<line x1="446.9" y1="815" x2="446.9" y2="999" stroke="#454545" stroke-width="1.3"/>
<line x1="446.3" y1="998.4" x2="722.3" y2="998.4" stroke="#454545" stroke-width="1.3"/>
<line x1="440.4" y1="815.6" x2="446.9" y2="815.6" stroke="#454545" stroke-width="1.3"/>
<text transform="translate(437.4 820) scale(1 1.04)" font-size="12.7" text-anchor="end" font-weight="bold" fill="#222222">10</text>
<line x1="440.4" y1="907" x2="446.9" y2="907" stroke="#454545" stroke-width="1.3"/>
<text transform="translate(437.4 911.4) scale(1 1.04)" font-size="12.7" text-anchor="end" font-weight="bold" fill="#222222">5</text>
<line x1="440.4" y1="998.4" x2="446.9" y2="998.4" stroke="#454545" stroke-width="1.3"/>
<text transform="translate(437.4 1002.8) scale(1 1.04)" font-size="12.7" text-anchor="end" font-weight="bold" fill="#222222">0</text>
<rect x="456.1" y="968.1" width="17.6" height="30.3" fill="#d3d3d3" stroke="none" stroke-width="0"/>
<rect x="482.63" y="919.6" width="17.6" height="78.8" fill="#333333" stroke="none" stroke-width="0"/>
<rect x="509.16" y="976.9" width="17.6" height="21.5" fill="#31b4cb" stroke="none" stroke-width="0"/>
<rect x="535.69" y="956.2" width="17.6" height="42.2" fill="#7e6aab" stroke="none" stroke-width="0"/>
<rect x="562.22" y="977.1" width="17.6" height="21.3" fill="#7e6aab" stroke="none" stroke-width="0"/>
<rect x="588.75" y="972.8" width="17.6" height="25.6" fill="#7e6aab" stroke="none" stroke-width="0"/>
<rect x="615.28" y="979.4" width="17.6" height="19" fill="#7e6aab" stroke="none" stroke-width="0"/>
<rect x="641.81" y="956.4" width="17.6" height="42" fill="#7e6aab" stroke="none" stroke-width="0"/>
<rect x="668.34" y="944.1" width="17.6" height="54.3" fill="#ff7f00" stroke="none" stroke-width="0"/>
<rect x="694.87" y="962.8" width="17.6" height="35.6" fill="#a5d5a5" stroke="none" stroke-width="0"/>
<line x1="464.9" y1="998.4" x2="464.9" y2="1005.6" stroke="#454545" stroke-width="1.3"/>
<text transform="translate(468 1017.6) rotate(-45) scale(1 1.04)" x="0" y="0" font-size="12.2" text-anchor="end" fill="#222222">PBS</text>
<line x1="491.43" y1="998.4" x2="491.43" y2="1005.6" stroke="#454545" stroke-width="1.3"/>
<text transform="translate(494.53 1017.6) rotate(-45) scale(1 1.04)" x="0" y="0" font-size="12.2" text-anchor="end" fill="#222222">MC3</text>
<line x1="517.96" y1="998.4" x2="517.96" y2="1005.6" stroke="#454545" stroke-width="1.3"/>
<text transform="translate(521.06 1017.6) rotate(-45) scale(1 1.04)" x="0" y="0" font-size="12.2" text-anchor="end" fill="#222222">C0-I1</text>
<line x1="544.49" y1="998.4" x2="544.49" y2="1005.6" stroke="#454545" stroke-width="1.3"/>
<text transform="translate(547.59 1017.6) rotate(-45) scale(1 1.04)" x="0" y="0" font-size="12.2" text-anchor="end" fill="#222222">C2-I0</text>
<line x1="571.02" y1="998.4" x2="571.02" y2="1005.6" stroke="#454545" stroke-width="1.3"/>
<text transform="translate(574.12 1017.6) rotate(-45) scale(1 1.04)" x="0" y="0" font-size="12.2" text-anchor="end" fill="#222222">C2'-I0</text>
<line x1="597.55" y1="998.4" x2="597.55" y2="1005.6" stroke="#454545" stroke-width="1.3"/>
<text transform="translate(600.65 1017.6) rotate(-45) scale(1 1.04)" x="0" y="0" font-size="12.2" text-anchor="end" fill="#222222">C1-I1</text>
<line x1="624.08" y1="998.4" x2="624.08" y2="1005.6" stroke="#454545" stroke-width="1.3"/>
<text transform="translate(627.18 1017.6) rotate(-45) scale(1 1.04)" x="0" y="0" font-size="12.2" text-anchor="end" fill="#222222">C1"-I1</text>
<line x1="650.61" y1="998.4" x2="650.61" y2="1005.6" stroke="#454545" stroke-width="1.3"/>
<text transform="translate(653.71 1017.6) rotate(-45) scale(1 1.04)" x="0" y="0" font-size="12.2" text-anchor="end" fill="#222222">C0-I2</text>
<line x1="677.14" y1="998.4" x2="677.14" y2="1005.6" stroke="#454545" stroke-width="1.3"/>
<text transform="translate(680.24 1017.6) rotate(-45) scale(1 1.04)" x="0" y="0" font-size="12.2" text-anchor="end" fill="#222222">C3-I0</text>
<line x1="703.67" y1="998.4" x2="703.67" y2="1005.6" stroke="#454545" stroke-width="1.3"/>
<text transform="translate(706.77 1017.6) rotate(-45) scale(1 1.04)" x="0" y="0" font-size="12.2" text-anchor="end" fill="#222222">C3-I1</text>
<line x1="464.9" y1="952.9" x2="464.9" y2="968.1" stroke="#e3e3e3" stroke-width="1.3"/>
<line x1="460.5" y1="952.9" x2="469.3" y2="952.9" stroke="#e3e3e3" stroke-width="1.3"/>
<line x1="491.43" y1="881.8" x2="491.43" y2="919.6" stroke="#333333" stroke-width="1.3"/>
<line x1="487.03" y1="881.8" x2="495.83" y2="881.8" stroke="#333333" stroke-width="1.3"/>
<line x1="517.96" y1="964.4" x2="517.96" y2="976.9" stroke="#31b4cb" stroke-width="1.3"/>
<line x1="513.56" y1="964.4" x2="522.36" y2="964.4" stroke="#31b4cb" stroke-width="1.3"/>
<line x1="544.49" y1="921.4" x2="544.49" y2="956.2" stroke="#a898cc" stroke-width="1.3"/>
<line x1="540.09" y1="921.4" x2="548.89" y2="921.4" stroke="#a898cc" stroke-width="1.3"/>
<line x1="571.02" y1="949.2" x2="571.02" y2="977.1" stroke="#a898cc" stroke-width="1.3"/>
<line x1="566.62" y1="949.2" x2="575.42" y2="949.2" stroke="#a898cc" stroke-width="1.3"/>
<line x1="597.55" y1="950.5" x2="597.55" y2="972.8" stroke="#a898cc" stroke-width="1.3"/>
<line x1="593.15" y1="950.5" x2="601.95" y2="950.5" stroke="#a898cc" stroke-width="1.3"/>
<line x1="624.08" y1="972.2" x2="624.08" y2="979.4" stroke="#a898cc" stroke-width="1.3"/>
<line x1="619.68" y1="972.2" x2="628.48" y2="972.2" stroke="#a898cc" stroke-width="1.3"/>
<line x1="650.61" y1="916.5" x2="650.61" y2="956.4" stroke="#a898cc" stroke-width="1.3"/>
<line x1="646.21" y1="916.5" x2="655.01" y2="916.5" stroke="#a898cc" stroke-width="1.3"/>
<line x1="677.14" y1="893.9" x2="677.14" y2="944.1" stroke="#ff7f00" stroke-width="1.3"/>
<line x1="672.74" y1="893.9" x2="681.54" y2="893.9" stroke="#ff7f00" stroke-width="1.3"/>
<line x1="703.67" y1="926.5" x2="703.67" y2="962.8" stroke="#c5e6c5" stroke-width="1.3"/>
<line x1="699.27" y1="926.5" x2="708.07" y2="926.5" stroke="#c5e6c5" stroke-width="1.3"/>
<circle cx="464.9" cy="951.5" r="2.05" fill="#0a0a0a"/>
<circle cx="464.9" cy="960.8" r="2.05" fill="#0a0a0a"/>
<circle cx="464.9" cy="975.2" r="2.05" fill="#0a0a0a"/>
<circle cx="464.9" cy="984.8" r="2.05" fill="#0a0a0a"/>
<circle cx="491.43" cy="877" r="2.05" fill="#0a0a0a"/>
<circle cx="491.43" cy="900.3" r="2.05" fill="#0a0a0a"/>
<circle cx="491.43" cy="940.9" r="2.05" fill="#0a0a0a"/>
<circle cx="491.43" cy="960.2" r="2.05" fill="#0a0a0a"/>
<circle cx="517.96" cy="964.8" r="2.05" fill="#0a0a0a"/>
<circle cx="517.96" cy="970" r="2.05" fill="#0a0a0a"/>
<circle cx="517.96" cy="980" r="2.05" fill="#0a0a0a"/>
<circle cx="517.96" cy="993.9" r="2.05" fill="#0a0a0a"/>
<circle cx="544.49" cy="909" r="2.05" fill="#0a0a0a"/>
<circle cx="544.49" cy="955.2" r="2.05" fill="#0a0a0a"/>
<circle cx="544.49" cy="970.3" r="2.05" fill="#0a0a0a"/>
<circle cx="544.49" cy="989.2" r="2.05" fill="#0a0a0a"/>
<circle cx="571" cy="935.6" r="2.05" fill="#0a0a0a"/>
<circle cx="571" cy="984.5" r="2.05" fill="#0a0a0a"/>
<circle cx="567.4" cy="994" r="2.05" fill="#0a0a0a"/>
<circle cx="574.8" cy="994" r="2.05" fill="#0a0a0a"/>
<circle cx="597.55" cy="951.1" r="2.05" fill="#0a0a0a"/>
<circle cx="597.55" cy="956.8" r="2.05" fill="#0a0a0a"/>
<circle cx="597.55" cy="988.9" r="2.05" fill="#0a0a0a"/>
<circle cx="597.55" cy="994" r="2.05" fill="#0a0a0a"/>
<circle cx="620.7" cy="974.1" r="2.05" fill="#0a0a0a"/>
<circle cx="627.8" cy="974.1" r="2.05" fill="#0a0a0a"/>
<circle cx="624" cy="979.4" r="2.05" fill="#0a0a0a"/>
<circle cx="624" cy="989.2" r="2.05" fill="#0a0a0a"/>
<circle cx="650.5" cy="897.3" r="2.05" fill="#0a0a0a"/>
<circle cx="650.5" cy="968.6" r="2.05" fill="#0a0a0a"/>
<circle cx="647.1" cy="979.8" r="2.05" fill="#0a0a0a"/>
<circle cx="654.3" cy="979.8" r="2.05" fill="#0a0a0a"/>
<circle cx="677.14" cy="893.1" r="2.05" fill="#0a0a0a"/>
<circle cx="677.14" cy="910.1" r="2.05" fill="#0a0a0a"/>
<circle cx="677.14" cy="979.8" r="2.05" fill="#0a0a0a"/>
<circle cx="677.14" cy="994" r="2.05" fill="#0a0a0a"/>
<circle cx="703.67" cy="914.3" r="2.05" fill="#0a0a0a"/>
<circle cx="703.67" cy="960.2" r="2.05" fill="#0a0a0a"/>
<circle cx="703.67" cy="978.1" r="2.05" fill="#0a0a0a"/>
<circle cx="703.67" cy="998.7" r="2.05" fill="#0a0a0a"/>
<text transform="translate(415 907.2) rotate(-90) scale(1 1.04)" x="0" y="0" font-size="15.2" text-anchor="middle" font-weight="normal" fill="#222222">Relative temperature change (%)</text>
<text transform="translate(360.49 803.9) scale(1.073 1)" font-size="28.05" font-weight="bold" fill="#000" style="stroke:none">H</text>
<line x1="792" y1="817.5" x2="792" y2="1001.4" stroke="#454545" stroke-width="1.3"/>
<line x1="791.4" y1="1000.8" x2="1067" y2="1000.8" stroke="#454545" stroke-width="1.3"/>
<line x1="785.5" y1="818.1" x2="792" y2="818.1" stroke="#454545" stroke-width="1.3"/>
<text transform="translate(782.5 822.4) scale(1 1.04)" font-size="12.7" text-anchor="end" font-weight="normal" fill="#222222">300</text>
<line x1="785.5" y1="879" x2="792" y2="879" stroke="#454545" stroke-width="1.3"/>
<text transform="translate(782.5 883.3) scale(1 1.04)" font-size="12.7" text-anchor="end" font-weight="normal" fill="#222222">200</text>
<line x1="785.5" y1="939.9" x2="792" y2="939.9" stroke="#454545" stroke-width="1.3"/>
<text transform="translate(782.5 944.2) scale(1 1.04)" font-size="12.7" text-anchor="end" font-weight="normal" fill="#222222">100</text>
<line x1="785.5" y1="1000.8" x2="792" y2="1000.8" stroke="#454545" stroke-width="1.3"/>
<text transform="translate(782.5 1005.1) scale(1 1.04)" font-size="12.7" text-anchor="end" font-weight="normal" fill="#222222">0</text>
<rect x="800.9" y="926.9" width="17.6" height="73.9" fill="#d3d3d3" stroke="none" stroke-width="0"/>
<rect x="827.45" y="944" width="17.6" height="56.8" fill="#333333" stroke="none" stroke-width="0"/>
<rect x="854" y="957.1" width="17.6" height="43.7" fill="#31b4cb" stroke="none" stroke-width="0"/>
<rect x="880.55" y="939.8" width="17.6" height="61" fill="#7e6aab" stroke="none" stroke-width="0"/>
<rect x="907.1" y="941.3" width="17.6" height="59.5" fill="#7e6aab" stroke="none" stroke-width="0"/>
<rect x="933.65" y="938.2" width="17.6" height="62.6" fill="#7e6aab" stroke="none" stroke-width="0"/>
<rect x="960.2" y="943.9" width="17.6" height="56.9" fill="#7e6aab" stroke="none" stroke-width="0"/>
<rect x="986.75" y="918" width="17.6" height="82.8" fill="#7e6aab" stroke="none" stroke-width="0"/>
<rect x="1013.3" y="955.8" width="17.6" height="45" fill="#ff7f00" stroke="none" stroke-width="0"/>
<rect x="1039.85" y="927.5" width="17.6" height="73.3" fill="#a5d5a5" stroke="none" stroke-width="0"/>
<line x1="809.7" y1="1000.8" x2="809.7" y2="1008" stroke="#454545" stroke-width="1.3"/>
<text transform="translate(812.8 1020) rotate(-45) scale(1 1.04)" x="0" y="0" font-size="12.2" text-anchor="end" fill="#222222">PBS</text>
<line x1="836.25" y1="1000.8" x2="836.25" y2="1008" stroke="#454545" stroke-width="1.3"/>
<text transform="translate(839.35 1020) rotate(-45) scale(1 1.04)" x="0" y="0" font-size="12.2" text-anchor="end" fill="#222222">MC3</text>
<line x1="862.8" y1="1000.8" x2="862.8" y2="1008" stroke="#454545" stroke-width="1.3"/>
<text transform="translate(865.9 1020) rotate(-45) scale(1 1.04)" x="0" y="0" font-size="12.2" text-anchor="end" fill="#222222">C0-I1</text>
<line x1="889.35" y1="1000.8" x2="889.35" y2="1008" stroke="#454545" stroke-width="1.3"/>
<text transform="translate(892.45 1020) rotate(-45) scale(1 1.04)" x="0" y="0" font-size="12.2" text-anchor="end" fill="#222222">C2-I0</text>
<line x1="915.9" y1="1000.8" x2="915.9" y2="1008" stroke="#454545" stroke-width="1.3"/>
<text transform="translate(919 1020) rotate(-45) scale(1 1.04)" x="0" y="0" font-size="12.2" text-anchor="end" fill="#222222">C2'-I0</text>
<line x1="942.45" y1="1000.8" x2="942.45" y2="1008" stroke="#454545" stroke-width="1.3"/>
<text transform="translate(945.55 1020) rotate(-45) scale(1 1.04)" x="0" y="0" font-size="12.2" text-anchor="end" fill="#222222">C1-I1</text>
<line x1="969" y1="1000.8" x2="969" y2="1008" stroke="#454545" stroke-width="1.3"/>
<text transform="translate(972.1 1020) rotate(-45) scale(1 1.04)" x="0" y="0" font-size="12.2" text-anchor="end" fill="#222222">C1"-I1</text>
<line x1="995.55" y1="1000.8" x2="995.55" y2="1008" stroke="#454545" stroke-width="1.3"/>
<text transform="translate(998.65 1020) rotate(-45) scale(1 1.04)" x="0" y="0" font-size="12.2" text-anchor="end" fill="#222222">C0-I2</text>
<line x1="1022.1" y1="1000.8" x2="1022.1" y2="1008" stroke="#454545" stroke-width="1.3"/>
<text transform="translate(1025.2 1020) rotate(-45) scale(1 1.04)" x="0" y="0" font-size="12.2" text-anchor="end" fill="#222222">C3-I0</text>
<line x1="1048.65" y1="1000.8" x2="1048.65" y2="1008" stroke="#454545" stroke-width="1.3"/>
<text transform="translate(1051.75 1020) rotate(-45) scale(1 1.04)" x="0" y="0" font-size="12.2" text-anchor="end" fill="#222222">C3-I1</text>
<line x1="809.7" y1="918.6" x2="809.7" y2="935.2" stroke="#111" stroke-width="1.3"/>
<line x1="805.3" y1="918.6" x2="814.1" y2="918.6" stroke="#111" stroke-width="1.3"/>
<line x1="805.3" y1="935.2" x2="814.1" y2="935.2" stroke="#111" stroke-width="1.3"/>
<line x1="836.25" y1="927.5" x2="836.25" y2="959.8" stroke="#111" stroke-width="1.3"/>
<line x1="831.85" y1="927.5" x2="840.65" y2="927.5" stroke="#111" stroke-width="1.3"/>
<line x1="831.85" y1="959.8" x2="840.65" y2="959.8" stroke="#111" stroke-width="1.3"/>
<line x1="862.8" y1="949.2" x2="862.8" y2="963.8" stroke="#111" stroke-width="1.3"/>
<line x1="858.4" y1="949.2" x2="867.2" y2="949.2" stroke="#111" stroke-width="1.3"/>
<line x1="858.4" y1="963.8" x2="867.2" y2="963.8" stroke="#111" stroke-width="1.3"/>
<line x1="889.35" y1="919.6" x2="889.35" y2="959.2" stroke="#111" stroke-width="1.3"/>
<line x1="884.95" y1="919.6" x2="893.75" y2="919.6" stroke="#111" stroke-width="1.3"/>
<line x1="884.95" y1="959.2" x2="893.75" y2="959.2" stroke="#111" stroke-width="1.3"/>
<line x1="915.9" y1="933.5" x2="915.9" y2="948.6" stroke="#111" stroke-width="1.3"/>
<line x1="911.5" y1="933.5" x2="920.3" y2="933.5" stroke="#111" stroke-width="1.3"/>
<line x1="911.5" y1="948.6" x2="920.3" y2="948.6" stroke="#111" stroke-width="1.3"/>
<line x1="942.45" y1="918.6" x2="942.45" y2="957.3" stroke="#111" stroke-width="1.3"/>
<line x1="938.05" y1="918.6" x2="946.85" y2="918.6" stroke="#111" stroke-width="1.3"/>
<line x1="938.05" y1="957.3" x2="946.85" y2="957.3" stroke="#111" stroke-width="1.3"/>
<line x1="969" y1="933.5" x2="969" y2="954.5" stroke="#111" stroke-width="1.3"/>
<line x1="964.6" y1="933.5" x2="973.4" y2="933.5" stroke="#111" stroke-width="1.3"/>
<line x1="964.6" y1="954.5" x2="973.4" y2="954.5" stroke="#111" stroke-width="1.3"/>
<line x1="995.55" y1="904.2" x2="995.55" y2="931.3" stroke="#111" stroke-width="1.3"/>
<line x1="991.15" y1="904.2" x2="999.95" y2="904.2" stroke="#111" stroke-width="1.3"/>
<line x1="991.15" y1="931.3" x2="999.95" y2="931.3" stroke="#111" stroke-width="1.3"/>
<line x1="1022.1" y1="951.1" x2="1022.1" y2="960.9" stroke="#111" stroke-width="1.3"/>
<line x1="1017.7" y1="951.1" x2="1026.5" y2="951.1" stroke="#111" stroke-width="1.3"/>
<line x1="1017.7" y1="960.9" x2="1026.5" y2="960.9" stroke="#111" stroke-width="1.3"/>
<line x1="1048.65" y1="916.5" x2="1048.65" y2="938.2" stroke="#111" stroke-width="1.3"/>
<line x1="1044.25" y1="916.5" x2="1053.05" y2="916.5" stroke="#111" stroke-width="1.3"/>
<line x1="1044.25" y1="938.2" x2="1053.05" y2="938.2" stroke="#111" stroke-width="1.3"/>
<circle cx="809.7" cy="917.1" r="2.05" fill="#0a0a0a"/>
<circle cx="809.7" cy="923.2" r="2.05" fill="#0a0a0a"/>
<circle cx="806" cy="934.2" r="2.05" fill="#0a0a0a"/>
<circle cx="813.2" cy="934.2" r="2.05" fill="#0a0a0a"/>
<circle cx="832.6" cy="930.7" r="2.05" fill="#0a0a0a"/>
<circle cx="839.9" cy="928.4" r="2.05" fill="#0a0a0a"/>
<circle cx="832.6" cy="958.1" r="2.05" fill="#0a0a0a"/>
<circle cx="839.9" cy="957.5" r="2.05" fill="#0a0a0a"/>
<circle cx="862.8" cy="947.1" r="2.05" fill="#0a0a0a"/>
<circle cx="862.8" cy="954.6" r="2.05" fill="#0a0a0a"/>
<circle cx="862.8" cy="959.2" r="2.05" fill="#0a0a0a"/>
<circle cx="862.8" cy="964.4" r="2.05" fill="#0a0a0a"/>
<circle cx="889.35" cy="912.4" r="2.05" fill="#0a0a0a"/>
<circle cx="889.35" cy="939" r="2.05" fill="#0a0a0a"/>
<circle cx="889.35" cy="949.4" r="2.05" fill="#0a0a0a"/>
<circle cx="889.35" cy="957.7" r="2.05" fill="#0a0a0a"/>
<circle cx="915.5" cy="932.8" r="2.05" fill="#0a0a0a"/>
<circle cx="912.1" cy="940.3" r="2.05" fill="#0a0a0a"/>
<circle cx="919.3" cy="940.3" r="2.05" fill="#0a0a0a"/>
<circle cx="915.5" cy="951.1" r="2.05" fill="#0a0a0a"/>
<circle cx="942.45" cy="915.6" r="2.05" fill="#0a0a0a"/>
<circle cx="942.45" cy="930.9" r="2.05" fill="#0a0a0a"/>
<circle cx="942.45" cy="944.1" r="2.05" fill="#0a0a0a"/>
<circle cx="942.45" cy="961.9" r="2.05" fill="#0a0a0a"/>
<circle cx="965" cy="938.8" r="2.05" fill="#0a0a0a"/>
<circle cx="972.5" cy="936" r="2.05" fill="#0a0a0a"/>
<circle cx="972.5" cy="941.6" r="2.05" fill="#0a0a0a"/>
<circle cx="968.8" cy="959.2" r="2.05" fill="#0a0a0a"/>
<circle cx="995.2" cy="900.7" r="2.05" fill="#0a0a0a"/>
<circle cx="991.8" cy="918" r="2.05" fill="#0a0a0a"/>
<circle cx="999" cy="918.6" r="2.05" fill="#0a0a0a"/>
<circle cx="995.2" cy="934.1" r="2.05" fill="#0a0a0a"/>
<circle cx="1026" cy="950.5" r="2.05" fill="#0a0a0a"/>
<circle cx="1018.8" cy="952.6" r="2.05" fill="#0a0a0a"/>
<circle cx="1026" cy="957.7" r="2.05" fill="#0a0a0a"/>
<circle cx="1018.4" cy="960.2" r="2.05" fill="#0a0a0a"/>
<circle cx="1048.5" cy="911.8" r="2.05" fill="#0a0a0a"/>
<circle cx="1044.7" cy="928.8" r="2.05" fill="#0a0a0a"/>
<circle cx="1051.9" cy="931.6" r="2.05" fill="#0a0a0a"/>
<circle cx="1048.5" cy="936.4" r="2.05" fill="#0a0a0a"/>
<text transform="translate(752.9 910.15) rotate(-90) scale(1 1.04)" x="0" y="0" font-size="15.4" text-anchor="middle" font-weight="normal" fill="#222222">AST (U/L)</text>
<text transform="translate(713.77 803.9) scale(0.820 1)" font-size="29.65" font-weight="bold" fill="#000" style="stroke:none">I</text>
<line x1="82.3" y1="1062.2" x2="82.3" y2="1246.6" stroke="#454545" stroke-width="1.3"/>
<line x1="81.7" y1="1246" x2="357.4" y2="1246" stroke="#454545" stroke-width="1.3"/>
<line x1="75.8" y1="1062.8" x2="82.3" y2="1062.8" stroke="#454545" stroke-width="1.3"/>
<text transform="translate(72.8 1067.1) scale(1 1.04)" font-size="12.7" text-anchor="end" font-weight="normal" fill="#222222">100</text>
<line x1="75.8" y1="1099.4" x2="82.3" y2="1099.4" stroke="#454545" stroke-width="1.3"/>
<text transform="translate(72.8 1103.7) scale(1 1.04)" font-size="12.7" text-anchor="end" font-weight="normal" fill="#222222">80</text>
<line x1="75.8" y1="1136.1" x2="82.3" y2="1136.1" stroke="#454545" stroke-width="1.3"/>
<text transform="translate(72.8 1140.4) scale(1 1.04)" font-size="12.7" text-anchor="end" font-weight="normal" fill="#222222">60</text>
<line x1="75.8" y1="1172.7" x2="82.3" y2="1172.7" stroke="#454545" stroke-width="1.3"/>
<text transform="translate(72.8 1177) scale(1 1.04)" font-size="12.7" text-anchor="end" font-weight="normal" fill="#222222">40</text>
<line x1="75.8" y1="1209.4" x2="82.3" y2="1209.4" stroke="#454545" stroke-width="1.3"/>
<text transform="translate(72.8 1213.7) scale(1 1.04)" font-size="12.7" text-anchor="end" font-weight="normal" fill="#222222">20</text>
<line x1="75.8" y1="1246" x2="82.3" y2="1246" stroke="#454545" stroke-width="1.3"/>
<text transform="translate(72.8 1250.3) scale(1 1.04)" font-size="12.7" text-anchor="end" font-weight="normal" fill="#222222">0</text>
<rect x="91.7" y="1173.2" width="17.6" height="72.8" fill="#d3d3d3" stroke="none" stroke-width="0"/>
<rect x="118.2" y="1186.3" width="17.6" height="59.7" fill="#333333" stroke="none" stroke-width="0"/>
<rect x="144.7" y="1190" width="17.6" height="56" fill="#31b4cb" stroke="none" stroke-width="0"/>
<rect x="171.2" y="1184.3" width="17.6" height="61.7" fill="#7e6aab" stroke="none" stroke-width="0"/>
<rect x="197.7" y="1173.9" width="17.6" height="72.1" fill="#7e6aab" stroke="none" stroke-width="0"/>
<rect x="224.2" y="1181.3" width="17.6" height="64.7" fill="#7e6aab" stroke="none" stroke-width="0"/>
<rect x="250.7" y="1181.3" width="17.6" height="64.7" fill="#7e6aab" stroke="none" stroke-width="0"/>
<rect x="277.2" y="1179.1" width="17.6" height="66.9" fill="#7e6aab" stroke="none" stroke-width="0"/>
<rect x="303.7" y="1188.9" width="17.6" height="57.1" fill="#ff7f00" stroke="none" stroke-width="0"/>
<rect x="330.2" y="1183.1" width="17.6" height="62.9" fill="#a5d5a5" stroke="none" stroke-width="0"/>
<line x1="100.5" y1="1246" x2="100.5" y2="1253.2" stroke="#454545" stroke-width="1.3"/>
<text transform="translate(103.6 1265.2) rotate(-45) scale(1 1.04)" x="0" y="0" font-size="12.2" text-anchor="end" fill="#222222">PBS</text>
<line x1="127" y1="1246" x2="127" y2="1253.2" stroke="#454545" stroke-width="1.3"/>
<text transform="translate(130.1 1265.2) rotate(-45) scale(1 1.04)" x="0" y="0" font-size="12.2" text-anchor="end" fill="#222222">MC3</text>
<line x1="153.5" y1="1246" x2="153.5" y2="1253.2" stroke="#454545" stroke-width="1.3"/>
<text transform="translate(156.6 1265.2) rotate(-45) scale(1 1.04)" x="0" y="0" font-size="12.2" text-anchor="end" fill="#222222">C0-I1</text>
<line x1="180" y1="1246" x2="180" y2="1253.2" stroke="#454545" stroke-width="1.3"/>
<text transform="translate(183.1 1265.2) rotate(-45) scale(1 1.04)" x="0" y="0" font-size="12.2" text-anchor="end" fill="#222222">C2-I0</text>
<line x1="206.5" y1="1246" x2="206.5" y2="1253.2" stroke="#454545" stroke-width="1.3"/>
<text transform="translate(209.6 1265.2) rotate(-45) scale(1 1.04)" x="0" y="0" font-size="12.2" text-anchor="end" fill="#222222">C2'-I0</text>
<line x1="233" y1="1246" x2="233" y2="1253.2" stroke="#454545" stroke-width="1.3"/>
<text transform="translate(236.1 1265.2) rotate(-45) scale(1 1.04)" x="0" y="0" font-size="12.2" text-anchor="end" fill="#222222">C1-I1</text>
<line x1="259.5" y1="1246" x2="259.5" y2="1253.2" stroke="#454545" stroke-width="1.3"/>
<text transform="translate(262.6 1265.2) rotate(-45) scale(1 1.04)" x="0" y="0" font-size="12.2" text-anchor="end" fill="#222222">C1"-I1</text>
<line x1="286" y1="1246" x2="286" y2="1253.2" stroke="#454545" stroke-width="1.3"/>
<text transform="translate(289.1 1265.2) rotate(-45) scale(1 1.04)" x="0" y="0" font-size="12.2" text-anchor="end" fill="#222222">C0-I2</text>
<line x1="312.5" y1="1246" x2="312.5" y2="1253.2" stroke="#454545" stroke-width="1.3"/>
<text transform="translate(315.6 1265.2) rotate(-45) scale(1 1.04)" x="0" y="0" font-size="12.2" text-anchor="end" fill="#222222">C3-I0</text>
<line x1="339" y1="1246" x2="339" y2="1253.2" stroke="#454545" stroke-width="1.3"/>
<text transform="translate(342.1 1265.2) rotate(-45) scale(1 1.04)" x="0" y="0" font-size="12.2" text-anchor="end" fill="#222222">C3-I1</text>
<line x1="127" y1="1181.7" x2="127" y2="1186.3" stroke="#111" stroke-width="1.3"/>
<line x1="122.6" y1="1181.7" x2="131.4" y2="1181.7" stroke="#111" stroke-width="1.3"/>
<line x1="153.5" y1="1185.7" x2="153.5" y2="1190" stroke="#31b4cb" stroke-width="1.3"/>
<line x1="149.1" y1="1185.7" x2="157.9" y2="1185.7" stroke="#31b4cb" stroke-width="1.3"/>
<line x1="180" y1="1176.8" x2="180" y2="1184.3" stroke="#a898cc" stroke-width="1.3"/>
<line x1="175.6" y1="1176.8" x2="184.4" y2="1176.8" stroke="#a898cc" stroke-width="1.3"/>
<line x1="206.5" y1="1167.4" x2="206.5" y2="1173.9" stroke="#a898cc" stroke-width="1.3"/>
<line x1="202.1" y1="1167.4" x2="210.9" y2="1167.4" stroke="#a898cc" stroke-width="1.3"/>
<line x1="233" y1="1174.8" x2="233" y2="1181.3" stroke="#a898cc" stroke-width="1.3"/>
<line x1="228.6" y1="1174.8" x2="237.4" y2="1174.8" stroke="#a898cc" stroke-width="1.3"/>
<line x1="259.5" y1="1172.6" x2="259.5" y2="1181.3" stroke="#a898cc" stroke-width="1.3"/>
<line x1="255.1" y1="1172.6" x2="263.9" y2="1172.6" stroke="#a898cc" stroke-width="1.3"/>
<line x1="286" y1="1176.7" x2="286" y2="1179.1" stroke="#a898cc" stroke-width="1.3"/>
<line x1="281.6" y1="1176.7" x2="290.4" y2="1176.7" stroke="#a898cc" stroke-width="1.3"/>
<line x1="312.5" y1="1186.1" x2="312.5" y2="1188.9" stroke="#ff7f00" stroke-width="1.3"/>
<line x1="308.1" y1="1186.1" x2="316.9" y2="1186.1" stroke="#ff7f00" stroke-width="1.3"/>
<line x1="339" y1="1175.9" x2="339" y2="1183.1" stroke="#c5e6c5" stroke-width="1.3"/>
<line x1="334.6" y1="1175.9" x2="343.4" y2="1175.9" stroke="#c5e6c5" stroke-width="1.3"/>
<circle cx="93.2" cy="1172.4" r="2.05" fill="#0a0a0a"/>
<circle cx="100.1" cy="1172.4" r="2.05" fill="#0a0a0a"/>
<circle cx="107" cy="1172.4" r="2.05" fill="#0a0a0a"/>
<circle cx="100.1" cy="1176.8" r="2.05" fill="#0a0a0a"/>
<circle cx="123.3" cy="1183.1" r="2.05" fill="#0a0a0a"/>
<circle cx="130.4" cy="1181.7" r="2.05" fill="#0a0a0a"/>
<circle cx="126.9" cy="1187.7" r="2.05" fill="#0a0a0a"/>
<circle cx="126.9" cy="1191.2" r="2.05" fill="#0a0a0a"/>
<circle cx="153.2" cy="1185.3" r="2.05" fill="#0a0a0a"/>
<circle cx="149.7" cy="1188.7" r="2.05" fill="#0a0a0a"/>
<circle cx="156.6" cy="1189.1" r="2.05" fill="#0a0a0a"/>
<circle cx="153.2" cy="1194.6" r="2.05" fill="#0a0a0a"/>
<circle cx="180" cy="1176.4" r="2.05" fill="#0a0a0a"/>
<circle cx="180" cy="1180.3" r="2.05" fill="#0a0a0a"/>
<circle cx="180" cy="1187.1" r="2.05" fill="#0a0a0a"/>
<circle cx="180" cy="1193" r="2.05" fill="#0a0a0a"/>
<circle cx="206.5" cy="1165.2" r="2.05" fill="#0a0a0a"/>
<circle cx="206.5" cy="1172.6" r="2.05" fill="#0a0a0a"/>
<circle cx="202.8" cy="1178.1" r="2.05" fill="#0a0a0a"/>
<circle cx="210.2" cy="1178.1" r="2.05" fill="#0a0a0a"/>
<circle cx="233" cy="1174.4" r="2.05" fill="#0a0a0a"/>
<circle cx="233" cy="1177.8" r="2.05" fill="#0a0a0a"/>
<circle cx="233" cy="1181.9" r="2.05" fill="#0a0a0a"/>
<circle cx="233" cy="1189.3" r="2.05" fill="#0a0a0a"/>
<circle cx="259.4" cy="1169.3" r="2.05" fill="#0a0a0a"/>
<circle cx="259.4" cy="1182.4" r="2.05" fill="#0a0a0a"/>
<circle cx="255.7" cy="1187" r="2.05" fill="#0a0a0a"/>
<circle cx="263.1" cy="1185.2" r="2.05" fill="#0a0a0a"/>
<circle cx="279.3" cy="1176.3" r="2.05" fill="#0a0a0a"/>
<circle cx="279.3" cy="1180" r="2.05" fill="#0a0a0a"/>
<circle cx="288.1" cy="1180" r="2.05" fill="#0a0a0a"/>
<circle cx="292.8" cy="1178.5" r="2.05" fill="#0a0a0a"/>
<circle cx="312.6" cy="1185.6" r="2.05" fill="#0a0a0a"/>
<circle cx="305.7" cy="1190.7" r="2.05" fill="#0a0a0a"/>
<circle cx="312.6" cy="1188.9" r="2.05" fill="#0a0a0a"/>
<circle cx="319.6" cy="1189.3" r="2.05" fill="#0a0a0a"/>
<circle cx="335.4" cy="1176.3" r="2.05" fill="#0a0a0a"/>
<circle cx="342.8" cy="1176.3" r="2.05" fill="#0a0a0a"/>
<circle cx="335.4" cy="1189.3" r="2.05" fill="#0a0a0a"/>
<circle cx="342.8" cy="1189.3" r="2.05" fill="#0a0a0a"/>
<text transform="translate(43 1154.95) rotate(-90) scale(1 1.04)" x="0" y="0" font-size="15.4" text-anchor="middle" font-weight="normal" fill="#222222">ALT (U/L)</text>
<path d="M18.1,1042 L25.9,1042 L25.9,1057 C25.9,1061.5 23.5,1063.3 20,1063.3 C18.5,1063.3 17.3,1063 16.3,1062.6 L16.3,1059.6 C17.3,1060 18.3,1060.2 19.3,1060.2 C21.5,1060.2 22.2,1059 22.2,1056.5 L22.2,1044.8 L18.1,1044.8 Z" fill="#000"/>
<line x1="444.6" y1="1061.8" x2="444.6" y2="1246.1" stroke="#454545" stroke-width="1.3"/>
<line x1="444" y1="1245.5" x2="719.8" y2="1245.5" stroke="#454545" stroke-width="1.3"/>
<line x1="438.1" y1="1062.4" x2="444.6" y2="1062.4" stroke="#454545" stroke-width="1.3"/>
<text transform="translate(435.1 1066.7) scale(1 1.04)" font-size="12.7" text-anchor="end" font-weight="normal" fill="#222222">60</text>
<line x1="438.1" y1="1123.4" x2="444.6" y2="1123.4" stroke="#454545" stroke-width="1.3"/>
<text transform="translate(435.1 1127.7) scale(1 1.04)" font-size="12.7" text-anchor="end" font-weight="normal" fill="#222222">40</text>
<line x1="438.1" y1="1184.5" x2="444.6" y2="1184.5" stroke="#454545" stroke-width="1.3"/>
<text transform="translate(435.1 1188.8) scale(1 1.04)" font-size="12.7" text-anchor="end" font-weight="normal" fill="#222222">20</text>
<line x1="438.1" y1="1245.5" x2="444.6" y2="1245.5" stroke="#454545" stroke-width="1.3"/>
<text transform="translate(435.1 1249.8) scale(1 1.04)" font-size="12.7" text-anchor="end" font-weight="normal" fill="#222222">0</text>
<rect x="453.7" y="1219" width="17.6" height="26.5" fill="#d3d3d3" stroke="none" stroke-width="0"/>
<rect x="480.25" y="1207.1" width="17.6" height="38.4" fill="#333333" stroke="none" stroke-width="0"/>
<rect x="506.8" y="1189.7" width="17.6" height="55.8" fill="#31b4cb" stroke="none" stroke-width="0"/>
<rect x="533.35" y="1203.1" width="17.6" height="42.4" fill="#7e6aab" stroke="none" stroke-width="0"/>
<rect x="559.9" y="1210" width="17.6" height="35.5" fill="#7e6aab" stroke="none" stroke-width="0"/>
<rect x="586.45" y="1209.3" width="17.6" height="36.2" fill="#7e6aab" stroke="none" stroke-width="0"/>
<rect x="613" y="1206.3" width="17.6" height="39.2" fill="#7e6aab" stroke="none" stroke-width="0"/>
<rect x="639.55" y="1220.2" width="17.6" height="25.3" fill="#7e6aab" stroke="none" stroke-width="0"/>
<rect x="666.1" y="1194.3" width="17.6" height="51.2" fill="#ff7f00" stroke="none" stroke-width="0"/>
<rect x="692.65" y="1221.3" width="17.6" height="24.2" fill="#a5d5a5" stroke="none" stroke-width="0"/>
<line x1="462.5" y1="1245.5" x2="462.5" y2="1252.7" stroke="#454545" stroke-width="1.3"/>
<text transform="translate(465.6 1264.7) rotate(-45) scale(1 1.04)" x="0" y="0" font-size="12.2" text-anchor="end" fill="#222222">PBS</text>
<line x1="489.05" y1="1245.5" x2="489.05" y2="1252.7" stroke="#454545" stroke-width="1.3"/>
<text transform="translate(492.15 1264.7) rotate(-45) scale(1 1.04)" x="0" y="0" font-size="12.2" text-anchor="end" fill="#222222">MC3</text>
<line x1="515.6" y1="1245.5" x2="515.6" y2="1252.7" stroke="#454545" stroke-width="1.3"/>
<text transform="translate(518.7 1264.7) rotate(-45) scale(1 1.04)" x="0" y="0" font-size="12.2" text-anchor="end" fill="#222222">C0-I1</text>
<line x1="542.15" y1="1245.5" x2="542.15" y2="1252.7" stroke="#454545" stroke-width="1.3"/>
<text transform="translate(545.25 1264.7) rotate(-45) scale(1 1.04)" x="0" y="0" font-size="12.2" text-anchor="end" fill="#222222">C2-I0</text>
<line x1="568.7" y1="1245.5" x2="568.7" y2="1252.7" stroke="#454545" stroke-width="1.3"/>
<text transform="translate(571.8 1264.7) rotate(-45) scale(1 1.04)" x="0" y="0" font-size="12.2" text-anchor="end" fill="#222222">C2'-I0</text>
<line x1="595.25" y1="1245.5" x2="595.25" y2="1252.7" stroke="#454545" stroke-width="1.3"/>
<text transform="translate(598.35 1264.7) rotate(-45) scale(1 1.04)" x="0" y="0" font-size="12.2" text-anchor="end" fill="#222222">C1-I1</text>
<line x1="621.8" y1="1245.5" x2="621.8" y2="1252.7" stroke="#454545" stroke-width="1.3"/>
<text transform="translate(624.9 1264.7) rotate(-45) scale(1 1.04)" x="0" y="0" font-size="12.2" text-anchor="end" fill="#222222">C1"-I1</text>
<line x1="648.35" y1="1245.5" x2="648.35" y2="1252.7" stroke="#454545" stroke-width="1.3"/>
<text transform="translate(651.45 1264.7) rotate(-45) scale(1 1.04)" x="0" y="0" font-size="12.2" text-anchor="end" fill="#222222">C0-I2</text>
<line x1="674.9" y1="1245.5" x2="674.9" y2="1252.7" stroke="#454545" stroke-width="1.3"/>
<text transform="translate(678 1264.7) rotate(-45) scale(1 1.04)" x="0" y="0" font-size="12.2" text-anchor="end" fill="#222222">C3-I0</text>
<line x1="701.45" y1="1245.5" x2="701.45" y2="1252.7" stroke="#454545" stroke-width="1.3"/>
<text transform="translate(704.55 1264.7) rotate(-45) scale(1 1.04)" x="0" y="0" font-size="12.2" text-anchor="end" fill="#222222">C3-I1</text>
<line x1="462.5" y1="1215" x2="462.5" y2="1223.3" stroke="#111" stroke-width="1.3"/>
<line x1="458.1" y1="1215" x2="466.9" y2="1215" stroke="#111" stroke-width="1.3"/>
<line x1="458.1" y1="1223.3" x2="466.9" y2="1223.3" stroke="#111" stroke-width="1.3"/>
<line x1="489.05" y1="1178.8" x2="489.05" y2="1235.2" stroke="#111" stroke-width="1.3"/>
<line x1="484.65" y1="1178.8" x2="493.45" y2="1178.8" stroke="#111" stroke-width="1.3"/>
<line x1="484.65" y1="1235.2" x2="493.45" y2="1235.2" stroke="#111" stroke-width="1.3"/>
<line x1="515.6" y1="1170.2" x2="515.6" y2="1208.5" stroke="#111" stroke-width="1.3"/>
<line x1="511.2" y1="1170.2" x2="520" y2="1170.2" stroke="#111" stroke-width="1.3"/>
<line x1="511.2" y1="1208.5" x2="520" y2="1208.5" stroke="#111" stroke-width="1.3"/>
<line x1="542.15" y1="1181.3" x2="542.15" y2="1224.7" stroke="#111" stroke-width="1.3"/>
<line x1="537.75" y1="1181.3" x2="546.55" y2="1181.3" stroke="#111" stroke-width="1.3"/>
<line x1="537.75" y1="1224.7" x2="546.55" y2="1224.7" stroke="#111" stroke-width="1.3"/>
<line x1="568.7" y1="1187" x2="568.7" y2="1232.4" stroke="#111" stroke-width="1.3"/>
<line x1="564.3" y1="1187" x2="573.1" y2="1187" stroke="#111" stroke-width="1.3"/>
<line x1="564.3" y1="1232.4" x2="573.1" y2="1232.4" stroke="#111" stroke-width="1.3"/>
<line x1="595.25" y1="1180.4" x2="595.25" y2="1237.4" stroke="#111" stroke-width="1.3"/>
<line x1="590.85" y1="1180.4" x2="599.65" y2="1180.4" stroke="#111" stroke-width="1.3"/>
<line x1="590.85" y1="1237.4" x2="599.65" y2="1237.4" stroke="#111" stroke-width="1.3"/>
<line x1="621.8" y1="1181.5" x2="621.8" y2="1230.6" stroke="#111" stroke-width="1.3"/>
<line x1="617.4" y1="1181.5" x2="626.2" y2="1181.5" stroke="#111" stroke-width="1.3"/>
<line x1="617.4" y1="1230.6" x2="626.2" y2="1230.6" stroke="#111" stroke-width="1.3"/>
<line x1="648.35" y1="1214.6" x2="648.35" y2="1225.4" stroke="#111" stroke-width="1.3"/>
<line x1="643.95" y1="1214.6" x2="652.75" y2="1214.6" stroke="#111" stroke-width="1.3"/>
<line x1="643.95" y1="1225.4" x2="652.75" y2="1225.4" stroke="#111" stroke-width="1.3"/>
<line x1="674.9" y1="1170.2" x2="674.9" y2="1217.4" stroke="#111" stroke-width="1.3"/>
<line x1="670.5" y1="1170.2" x2="679.3" y2="1170.2" stroke="#111" stroke-width="1.3"/>
<line x1="670.5" y1="1217.4" x2="679.3" y2="1217.4" stroke="#111" stroke-width="1.3"/>
<line x1="701.45" y1="1215.7" x2="701.45" y2="1226.9" stroke="#111" stroke-width="1.3"/>
<line x1="697.05" y1="1215.7" x2="705.85" y2="1215.7" stroke="#111" stroke-width="1.3"/>
<line x1="697.05" y1="1226.9" x2="705.85" y2="1226.9" stroke="#111" stroke-width="1.3"/>
<circle cx="455.5" cy="1215" r="2.05" fill="#0a0a0a"/>
<circle cx="462.5" cy="1218.4" r="2.05" fill="#0a0a0a"/>
<circle cx="469.4" cy="1218.4" r="2.05" fill="#0a0a0a"/>
<circle cx="462.5" cy="1224.3" r="2.05" fill="#0a0a0a"/>
<circle cx="488.8" cy="1166.3" r="2.05" fill="#0a0a0a"/>
<circle cx="488.8" cy="1209.1" r="2.05" fill="#0a0a0a"/>
<circle cx="492.4" cy="1224.3" r="2.05" fill="#0a0a0a"/>
<circle cx="485.3" cy="1227.3" r="2.05" fill="#0a0a0a"/>
<circle cx="515.6" cy="1166.3" r="2.05" fill="#0a0a0a"/>
<circle cx="515.6" cy="1181.7" r="2.05" fill="#0a0a0a"/>
<circle cx="515.6" cy="1200" r="2.05" fill="#0a0a0a"/>
<circle cx="515.6" cy="1209.1" r="2.05" fill="#0a0a0a"/>
<circle cx="542.15" cy="1181.7" r="2.05" fill="#0a0a0a"/>
<circle cx="542.15" cy="1187.7" r="2.05" fill="#0a0a0a"/>
<circle cx="542.15" cy="1218.4" r="2.05" fill="#0a0a0a"/>
<circle cx="542.15" cy="1224.3" r="2.05" fill="#0a0a0a"/>
<circle cx="568.5" cy="1175.4" r="2.05" fill="#0a0a0a"/>
<circle cx="561.9" cy="1221.3" r="2.05" fill="#0a0a0a"/>
<circle cx="568.5" cy="1221.3" r="2.05" fill="#0a0a0a"/>
<circle cx="575.4" cy="1221.3" r="2.05" fill="#0a0a0a"/>
<circle cx="595.2" cy="1166.5" r="2.05" fill="#0a0a0a"/>
<circle cx="588.3" cy="1224.4" r="2.05" fill="#0a0a0a"/>
<circle cx="595.2" cy="1221.3" r="2.05" fill="#0a0a0a"/>
<circle cx="602.2" cy="1224.4" r="2.05" fill="#0a0a0a"/>
<circle cx="621.7" cy="1169.4" r="2.05" fill="#0a0a0a"/>
<circle cx="618.3" cy="1215.2" r="2.05" fill="#0a0a0a"/>
<circle cx="625.4" cy="1218.3" r="2.05" fill="#0a0a0a"/>
<circle cx="618.3" cy="1221.3" r="2.05" fill="#0a0a0a"/>
<circle cx="648.1" cy="1212" r="2.05" fill="#0a0a0a"/>
<circle cx="641.1" cy="1224.4" r="2.05" fill="#0a0a0a"/>
<circle cx="648.1" cy="1221.3" r="2.05" fill="#0a0a0a"/>
<circle cx="655.4" cy="1221.3" r="2.05" fill="#0a0a0a"/>
<circle cx="671.1" cy="1178.5" r="2.05" fill="#0a0a0a"/>
<circle cx="678.5" cy="1175.4" r="2.05" fill="#0a0a0a"/>
<circle cx="674.8" cy="1193.9" r="2.05" fill="#0a0a0a"/>
<circle cx="674.8" cy="1227.6" r="2.05" fill="#0a0a0a"/>
<circle cx="697.6" cy="1218.3" r="2.05" fill="#0a0a0a"/>
<circle cx="704.6" cy="1215.2" r="2.05" fill="#0a0a0a"/>
<circle cx="704.6" cy="1224.4" r="2.05" fill="#0a0a0a"/>
<circle cx="697.6" cy="1227.2" r="2.05" fill="#0a0a0a"/>
<text transform="translate(411.8 1155) rotate(-90) scale(1 1.04)" x="0" y="0" font-size="15.4" text-anchor="middle" font-weight="normal" fill="#222222">CREA (μmol/L)</text>
<text transform="translate(366.45 1063.6) scale(0.855 1)" font-size="28.78" font-weight="bold" fill="#000" style="stroke:none">K</text>
<line x1="791.3" y1="1061.8" x2="791.3" y2="1246.3" stroke="#454545" stroke-width="1.3"/>
<line x1="790.7" y1="1245.7" x2="1066.7" y2="1245.7" stroke="#454545" stroke-width="1.3"/>
<line x1="784.8" y1="1062.4" x2="791.3" y2="1062.4" stroke="#454545" stroke-width="1.3"/>
<text transform="translate(781.8 1066.7) scale(1 1.04)" font-size="12.7" text-anchor="end" font-weight="normal" fill="#222222">20</text>
<line x1="784.8" y1="1108.2" x2="791.3" y2="1108.2" stroke="#454545" stroke-width="1.3"/>
<text transform="translate(781.8 1112.5) scale(1 1.04)" font-size="12.7" text-anchor="end" font-weight="normal" fill="#222222">15</text>
<line x1="784.8" y1="1154.1" x2="791.3" y2="1154.1" stroke="#454545" stroke-width="1.3"/>
<text transform="translate(781.8 1158.4) scale(1 1.04)" font-size="12.7" text-anchor="end" font-weight="normal" fill="#222222">10</text>
<line x1="784.8" y1="1199.9" x2="791.3" y2="1199.9" stroke="#454545" stroke-width="1.3"/>
<text transform="translate(781.8 1204.2) scale(1 1.04)" font-size="12.7" text-anchor="end" font-weight="normal" fill="#222222">5</text>
<line x1="784.8" y1="1245.7" x2="791.3" y2="1245.7" stroke="#454545" stroke-width="1.3"/>
<text transform="translate(781.8 1250) scale(1 1.04)" font-size="12.7" text-anchor="end" font-weight="normal" fill="#222222">0</text>
<rect x="800.7" y="1170.8" width="17.6" height="74.9" fill="#d3d3d3" stroke="none" stroke-width="0"/>
<rect x="827.22" y="1178.2" width="17.6" height="67.5" fill="#333333" stroke="none" stroke-width="0"/>
<rect x="853.74" y="1178.2" width="17.6" height="67.5" fill="#31b4cb" stroke="none" stroke-width="0"/>
<rect x="880.26" y="1163.5" width="17.6" height="82.2" fill="#7e6aab" stroke="none" stroke-width="0"/>
<rect x="906.78" y="1180.9" width="17.6" height="64.8" fill="#7e6aab" stroke="none" stroke-width="0"/>
<rect x="933.3" y="1182.8" width="17.6" height="62.9" fill="#7e6aab" stroke="none" stroke-width="0"/>
<rect x="959.82" y="1178.5" width="17.6" height="67.2" fill="#7e6aab" stroke="none" stroke-width="0"/>
<rect x="986.34" y="1174.4" width="17.6" height="71.3" fill="#7e6aab" stroke="none" stroke-width="0"/>
<rect x="1012.86" y="1168.9" width="17.6" height="76.8" fill="#ff7f00" stroke="none" stroke-width="0"/>
<rect x="1039.38" y="1169.4" width="17.6" height="76.3" fill="#a5d5a5" stroke="none" stroke-width="0"/>
<line x1="809.5" y1="1245.7" x2="809.5" y2="1252.9" stroke="#454545" stroke-width="1.3"/>
<text transform="translate(812.6 1264.9) rotate(-45) scale(1 1.04)" x="0" y="0" font-size="12.2" text-anchor="end" fill="#222222">PBS</text>
<line x1="836.02" y1="1245.7" x2="836.02" y2="1252.9" stroke="#454545" stroke-width="1.3"/>
<text transform="translate(839.12 1264.9) rotate(-45) scale(1 1.04)" x="0" y="0" font-size="12.2" text-anchor="end" fill="#222222">MC3</text>
<line x1="862.54" y1="1245.7" x2="862.54" y2="1252.9" stroke="#454545" stroke-width="1.3"/>
<text transform="translate(865.64 1264.9) rotate(-45) scale(1 1.04)" x="0" y="0" font-size="12.2" text-anchor="end" fill="#222222">C0-I1</text>
<line x1="889.06" y1="1245.7" x2="889.06" y2="1252.9" stroke="#454545" stroke-width="1.3"/>
<text transform="translate(892.16 1264.9) rotate(-45) scale(1 1.04)" x="0" y="0" font-size="12.2" text-anchor="end" fill="#222222">C2-I0</text>
<line x1="915.58" y1="1245.7" x2="915.58" y2="1252.9" stroke="#454545" stroke-width="1.3"/>
<text transform="translate(918.68 1264.9) rotate(-45) scale(1 1.04)" x="0" y="0" font-size="12.2" text-anchor="end" fill="#222222">C2'-I0</text>
<line x1="942.1" y1="1245.7" x2="942.1" y2="1252.9" stroke="#454545" stroke-width="1.3"/>
<text transform="translate(945.2 1264.9) rotate(-45) scale(1 1.04)" x="0" y="0" font-size="12.2" text-anchor="end" fill="#222222">C1-I1</text>
<line x1="968.62" y1="1245.7" x2="968.62" y2="1252.9" stroke="#454545" stroke-width="1.3"/>
<text transform="translate(971.72 1264.9) rotate(-45) scale(1 1.04)" x="0" y="0" font-size="12.2" text-anchor="end" fill="#222222">C1"-I1</text>
<line x1="995.14" y1="1245.7" x2="995.14" y2="1252.9" stroke="#454545" stroke-width="1.3"/>
<text transform="translate(998.24 1264.9) rotate(-45) scale(1 1.04)" x="0" y="0" font-size="12.2" text-anchor="end" fill="#222222">C0-I2</text>
<line x1="1021.66" y1="1245.7" x2="1021.66" y2="1252.9" stroke="#454545" stroke-width="1.3"/>
<text transform="translate(1024.76 1264.9) rotate(-45) scale(1 1.04)" x="0" y="0" font-size="12.2" text-anchor="end" fill="#222222">C3-I0</text>
<line x1="1048.18" y1="1245.7" x2="1048.18" y2="1252.9" stroke="#454545" stroke-width="1.3"/>
<text transform="translate(1051.28 1264.9) rotate(-45) scale(1 1.04)" x="0" y="0" font-size="12.2" text-anchor="end" fill="#222222">C3-I1</text>
<line x1="809.5" y1="1166.3" x2="809.5" y2="1174.4" stroke="#111" stroke-width="1.3"/>
<line x1="805.1" y1="1166.3" x2="813.9" y2="1166.3" stroke="#111" stroke-width="1.3"/>
<line x1="805.1" y1="1174.4" x2="813.9" y2="1174.4" stroke="#111" stroke-width="1.3"/>
<line x1="836.02" y1="1174.8" x2="836.02" y2="1181.1" stroke="#111" stroke-width="1.3"/>
<line x1="831.62" y1="1174.8" x2="840.42" y2="1174.8" stroke="#111" stroke-width="1.3"/>
<line x1="831.62" y1="1181.1" x2="840.42" y2="1181.1" stroke="#111" stroke-width="1.3"/>
<line x1="862.54" y1="1169.4" x2="862.54" y2="1185.7" stroke="#111" stroke-width="1.3"/>
<line x1="858.14" y1="1169.4" x2="866.94" y2="1169.4" stroke="#111" stroke-width="1.3"/>
<line x1="858.14" y1="1185.7" x2="866.94" y2="1185.7" stroke="#111" stroke-width="1.3"/>
<line x1="889.06" y1="1149" x2="889.06" y2="1176.8" stroke="#111" stroke-width="1.3"/>
<line x1="884.66" y1="1149" x2="893.46" y2="1149" stroke="#111" stroke-width="1.3"/>
<line x1="884.66" y1="1176.8" x2="893.46" y2="1176.8" stroke="#111" stroke-width="1.3"/>
<line x1="915.58" y1="1179.5" x2="915.58" y2="1182" stroke="#111" stroke-width="1.3"/>
<line x1="911.18" y1="1179.5" x2="919.98" y2="1179.5" stroke="#111" stroke-width="1.3"/>
<line x1="911.18" y1="1182" x2="919.98" y2="1182" stroke="#111" stroke-width="1.3"/>
<line x1="942.1" y1="1175.9" x2="942.1" y2="1188.9" stroke="#111" stroke-width="1.3"/>
<line x1="937.7" y1="1175.9" x2="946.5" y2="1175.9" stroke="#111" stroke-width="1.3"/>
<line x1="937.7" y1="1188.9" x2="946.5" y2="1188.9" stroke="#111" stroke-width="1.3"/>
<line x1="968.62" y1="1175.4" x2="968.62" y2="1179.6" stroke="#111" stroke-width="1.3"/>
<line x1="964.22" y1="1175.4" x2="973.02" y2="1175.4" stroke="#111" stroke-width="1.3"/>
<line x1="964.22" y1="1179.6" x2="973.02" y2="1179.6" stroke="#111" stroke-width="1.3"/>
<line x1="995.14" y1="1168" x2="995.14" y2="1179.6" stroke="#111" stroke-width="1.3"/>
<line x1="990.74" y1="1168" x2="999.54" y2="1168" stroke="#111" stroke-width="1.3"/>
<line x1="990.74" y1="1179.6" x2="999.54" y2="1179.6" stroke="#111" stroke-width="1.3"/>
<line x1="1021.66" y1="1158.1" x2="1021.66" y2="1179.1" stroke="#111" stroke-width="1.3"/>
<line x1="1017.26" y1="1158.1" x2="1026.06" y2="1158.1" stroke="#111" stroke-width="1.3"/>
<line x1="1017.26" y1="1179.1" x2="1026.06" y2="1179.1" stroke="#111" stroke-width="1.3"/>
<line x1="1048.18" y1="1161.1" x2="1048.18" y2="1177.2" stroke="#111" stroke-width="1.3"/>
<line x1="1043.78" y1="1161.1" x2="1052.58" y2="1161.1" stroke="#111" stroke-width="1.3"/>
<line x1="1043.78" y1="1177.2" x2="1052.58" y2="1177.2" stroke="#111" stroke-width="1.3"/>
<circle cx="802.2" cy="1167.5" r="2.05" fill="#0a0a0a"/>
<circle cx="809.5" cy="1168.4" r="2.05" fill="#0a0a0a"/>
<circle cx="816.7" cy="1169.2" r="2.05" fill="#0a0a0a"/>
<circle cx="809.5" cy="1176.4" r="2.05" fill="#0a0a0a"/>
<circle cx="839.5" cy="1173.2" r="2.05" fill="#0a0a0a"/>
<circle cx="833.9" cy="1176.8" r="2.05" fill="#0a0a0a"/>
<circle cx="837.5" cy="1178.8" r="2.05" fill="#0a0a0a"/>
<circle cx="833.3" cy="1180.7" r="2.05" fill="#0a0a0a"/>
<circle cx="862.3" cy="1167.5" r="2.05" fill="#0a0a0a"/>
<circle cx="862.3" cy="1174.8" r="2.05" fill="#0a0a0a"/>
<circle cx="858.7" cy="1185.3" r="2.05" fill="#0a0a0a"/>
<circle cx="866.6" cy="1183.1" r="2.05" fill="#0a0a0a"/>
<circle cx="888.8" cy="1146.6" r="2.05" fill="#0a0a0a"/>
<circle cx="888.8" cy="1156.4" r="2.05" fill="#0a0a0a"/>
<circle cx="885.5" cy="1175.8" r="2.05" fill="#0a0a0a"/>
<circle cx="893" cy="1175.8" r="2.05" fill="#0a0a0a"/>
<circle cx="908.7" cy="1181.9" r="2.05" fill="#0a0a0a"/>
<circle cx="913.3" cy="1178.5" r="2.05" fill="#0a0a0a"/>
<circle cx="918" cy="1180.9" r="2.05" fill="#0a0a0a"/>
<circle cx="922.6" cy="1180.9" r="2.05" fill="#0a0a0a"/>
<circle cx="942" cy="1173.9" r="2.05" fill="#0a0a0a"/>
<circle cx="938.3" cy="1182.8" r="2.05" fill="#0a0a0a"/>
<circle cx="945.7" cy="1185.2" r="2.05" fill="#0a0a0a"/>
<circle cx="938.9" cy="1188" r="2.05" fill="#0a0a0a"/>
<circle cx="961.5" cy="1179.4" r="2.05" fill="#0a0a0a"/>
<circle cx="968.5" cy="1177.8" r="2.05" fill="#0a0a0a"/>
<circle cx="975.7" cy="1174.8" r="2.05" fill="#0a0a0a"/>
<circle cx="975.7" cy="1179.4" r="2.05" fill="#0a0a0a"/>
<circle cx="995.2" cy="1166.1" r="2.05" fill="#0a0a0a"/>
<circle cx="995.2" cy="1173" r="2.05" fill="#0a0a0a"/>
<circle cx="991.7" cy="1180" r="2.05" fill="#0a0a0a"/>
<circle cx="999.1" cy="1177.2" r="2.05" fill="#0a0a0a"/>
<circle cx="1021.66" cy="1157.2" r="2.05" fill="#0a0a0a"/>
<circle cx="1021.66" cy="1162.4" r="2.05" fill="#0a0a0a"/>
<circle cx="1021.66" cy="1174.8" r="2.05" fill="#0a0a0a"/>
<circle cx="1021.66" cy="1179.4" r="2.05" fill="#0a0a0a"/>
<circle cx="1048.1" cy="1159.1" r="2.05" fill="#0a0a0a"/>
<circle cx="1044.4" cy="1168.9" r="2.05" fill="#0a0a0a"/>
<circle cx="1052.2" cy="1169.8" r="2.05" fill="#0a0a0a"/>
<circle cx="1048.1" cy="1178.5" r="2.05" fill="#0a0a0a"/>
<text transform="translate(759.9 1154) rotate(-90) scale(1 1.04)" x="0" y="0" font-size="15.4" text-anchor="middle" font-weight="normal" fill="#222222">UREA (mmol/L)</text>
<text transform="translate(716.62 1063.2) scale(0.854 1)" font-size="27.62" font-weight="bold" fill="#000" style="stroke:none">L</text>
</svg></body></html>
